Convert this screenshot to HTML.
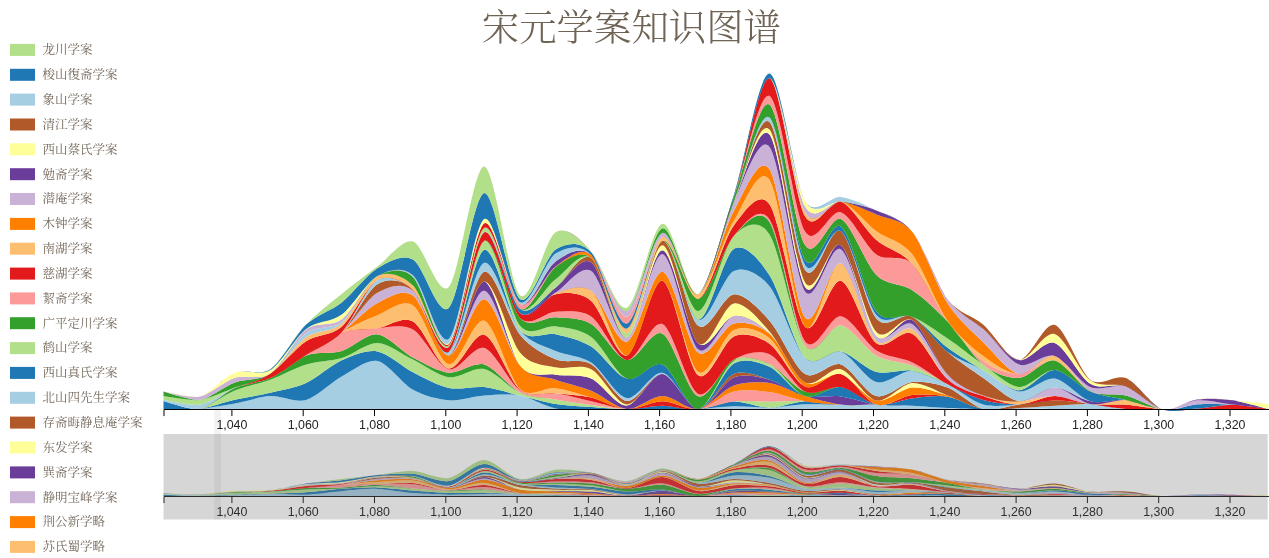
<!DOCTYPE html>
<html lang="zh"><head><meta charset="utf-8"><title>宋元学案知识图谱</title>
<style>
html,body{margin:0;padding:0;background:#fff;}
body{width:1269px;height:558px;overflow:hidden;position:relative;font-family:"Liberation Sans","Noto Sans CJK SC",sans-serif;}
svg{position:absolute;left:0;top:0;display:block;}
.title{font-family:"Liberation Serif","Noto Serif CJK SC",serif;font-size:37.4px;font-weight:300;fill:#6f6355;}
.leg text{font-family:"Liberation Serif","Noto Serif CJK SC",serif;font-size:12.5px;fill:#73675a;}
.axis text{font-family:"Liberation Sans",sans-serif;font-size:12.4px;fill:#222;text-anchor:middle;}
.axis path,.axis line{fill:none;stroke:#000;stroke-width:1;}
.ax2 path,.ax2 line{stroke:#333;}
.ax2 text{fill:#3a3a3a;}
</style></head><body>
<svg width="1269" height="558" viewBox="0 0 1269 558">
<text class="title" x="631.4" y="40.8" text-anchor="middle">宋元学案知识图谱</text>
<g class="leg">
<rect x="10" y="43.9" width="25" height="12" fill="#b2df8a"/><text x="42.5" y="54.2">龙川学案</text>
<rect x="10" y="68.8" width="25" height="12" fill="#1f78b4"/><text x="42.5" y="79">梭山復斋学案</text>
<rect x="10" y="93.6" width="25" height="12" fill="#a6cee3"/><text x="42.5" y="103.9">象山学案</text>
<rect x="10" y="118.5" width="25" height="12" fill="#b15928"/><text x="42.5" y="128.8">清江学案</text>
<rect x="10" y="143.3" width="25" height="12" fill="#ffff99"/><text x="42.5" y="153.6">西山蔡氏学案</text>
<rect x="10" y="168.2" width="25" height="12" fill="#6a3d9a"/><text x="42.5" y="178.5">勉斋学案</text>
<rect x="10" y="193" width="25" height="12" fill="#cab2d6"/><text x="42.5" y="203.3">潜庵学案</text>
<rect x="10" y="217.9" width="25" height="12" fill="#ff7f00"/><text x="42.5" y="228.2">木钟学案</text>
<rect x="10" y="242.7" width="25" height="12" fill="#fdbf6f"/><text x="42.5" y="253">南湖学案</text>
<rect x="10" y="267.6" width="25" height="12" fill="#e31a1c"/><text x="42.5" y="277.9">慈湖学案</text>
<rect x="10" y="292.4" width="25" height="12" fill="#fb9a99"/><text x="42.5" y="302.7">絜斋学案</text>
<rect x="10" y="317.2" width="25" height="12" fill="#33a02c"/><text x="42.5" y="327.6">广平定川学案</text>
<rect x="10" y="342.1" width="25" height="12" fill="#b2df8a"/><text x="42.5" y="352.4">鹤山学案</text>
<rect x="10" y="366.9" width="25" height="12" fill="#1f78b4"/><text x="42.5" y="377.2">西山真氏学案</text>
<rect x="10" y="391.8" width="25" height="12" fill="#a6cee3"/><text x="42.5" y="402.1">北山四先生学案</text>
<rect x="10" y="416.6" width="25" height="12" fill="#b15928"/><text x="42.5" y="426.9">存斋晦静息庵学案</text>
<rect x="10" y="441.5" width="25" height="12" fill="#ffff99"/><text x="42.5" y="451.8">东发学案</text>
<rect x="10" y="466.4" width="25" height="12" fill="#6a3d9a"/><text x="42.5" y="476.7">巽斋学案</text>
<rect x="10" y="491.2" width="25" height="12" fill="#cab2d6"/><text x="42.5" y="501.5">静明宝峰学案</text>
<rect x="10" y="516.1" width="25" height="12" fill="#ff7f00"/><text x="42.5" y="526.4">荆公新学略</text>
<rect x="10" y="540.9" width="25" height="12" fill="#fdbf6f"/><text x="42.5" y="551.2">苏氏蜀学略</text>
</g>
<g class="stream">
<path fill="#a6cee3" d="M163.5,409C182.5,409.4 194.4,409.4 199.1,409C209.8,408.2 224.1,405.5 234.8,403.6C245.5,401.7 259.7,396.6 270.4,396.1C281.1,395.6 295.4,402.9 306.1,400C316.8,397.1 331,382.5 341.7,376.6C352.4,370.8 366.7,359 377.4,361C388.1,363 402.3,383.9 413,389.8C423.7,395.7 438,399.4 448.7,400.3C459.4,401.2 473.6,396.2 484.3,395.5C495,394.8 509.3,393.7 520,395.6C530.6,397.6 544.9,406.5 555.6,408.5C566.3,410.5 580.5,408.9 591.2,409C601.9,409.1 616.2,409 626.9,409L626.9,409C616.2,409 601.9,409 591.2,409C580.5,409 566.3,409 555.6,409C544.9,409 530.6,409 520,409C509.3,409 495,409 484.3,409C473.6,409 459.4,409 448.7,409C438,409 423.7,409 413,409C402.3,409 388.1,409 377.4,409C366.7,409 352.4,409 341.7,409C331,409 316.8,409 306.1,409C295.4,409 281.1,409 270.4,409C259.7,409 245.5,409 234.8,409C224.1,409 209.8,409 199.1,409C194.4,409 182.5,409 163.5,409ZM662.5,409C673.2,409 687.5,409.4 698.2,409C708.9,408.6 723.1,406.5 733.8,406.3C744.5,406.1 758.8,407.9 769.5,407.6C780.2,407.3 794.4,404.8 805.1,404.3C815.8,403.9 830.1,404.6 840.8,404.6C851.4,404.6 865.7,404.4 876.4,404.6C887.1,404.8 901.4,405.2 912,405.7C922.7,406.2 937,407.5 947.7,408C958.4,408.5 972.6,409 983.3,409C994,409 1008.3,408 1019,408C1029.7,408 1043.9,408.9 1054.6,409C1065.3,409.1 1079.6,409 1090.3,409L1090.3,409C1079.6,409 1065.3,409 1054.6,409C1043.9,409 1029.7,409 1019,409C1008.3,409 994,409 983.3,409C972.6,409 958.4,409 947.7,409C937,409 922.7,409 912,409C901.4,409 887.1,409 876.4,409C865.7,409 851.4,409 840.8,409C830.1,409 815.8,409 805.1,409C794.4,409 780.2,409 769.5,409C758.8,409 744.5,409 733.8,409C723.1,409 708.9,409 698.2,409C687.5,409 673.2,409 662.5,409Z"/>
<path fill="#1f78b4" d="M163.5,409C182.5,409.6 194.4,409.6 199.1,409C209.8,407.6 224.1,402.2 234.8,399.8C245.5,397.4 259.7,395.2 270.4,392.7C281.1,390.2 295.4,388 306.1,383.1C316.8,378.2 331,365.1 341.7,360.3C352.4,355.5 366.7,349.6 377.4,351.4C388.1,353.2 402.3,366.7 413,372.2C423.7,377.7 438,385.7 448.7,387.9C459.4,390.1 473.6,385.9 484.3,387.1C495,388.3 509.3,393.1 520,395.6C530.6,398.1 544.9,402.3 555.6,404C566.3,405.7 580.5,406.2 591.2,407C601.9,407.8 616.2,409.2 626.9,409C637.6,408.8 651.8,405.8 662.5,405.8C673.2,405.8 687.5,409.6 698.2,409C708.9,408.4 723.1,401.7 733.8,401.5C744.5,401.3 758.8,407.6 769.5,407.6C780.2,407.6 794.4,401.6 805.1,401.2C815.8,400.8 830.1,404.1 840.8,404.6C851.4,405.1 865.7,404.4 876.4,404.6L876.4,404.6C865.7,404.4 851.4,404.6 840.8,404.6C830.1,404.6 815.8,403.9 805.1,404.3C794.4,404.8 780.2,407.3 769.5,407.6C758.8,407.9 744.5,406.1 733.8,406.3C723.1,406.5 708.9,408.6 698.2,409C687.5,409.4 673.2,409 662.5,409C651.8,409 637.6,409 626.9,409C616.2,409 601.9,409.1 591.2,409C580.5,408.9 566.3,410.5 555.6,408.5C544.9,406.5 530.6,397.6 520,395.6C509.3,393.7 495,394.8 484.3,395.5C473.6,396.2 459.4,401.2 448.7,400.3C438,399.4 423.7,395.7 413,389.8C402.3,383.9 388.1,363 377.4,361C366.7,359 352.4,370.8 341.7,376.6C331,382.5 316.8,397.1 306.1,400C295.4,402.9 281.1,395.6 270.4,396.1C259.7,396.6 245.5,401.7 234.8,403.6C224.1,405.5 209.8,408.2 199.1,409C194.4,409.4 182.5,409.4 163.5,409Z"/>
<path fill="#b2df8a" d="M163.5,409C182.5,410.2 194.4,410.2 199.1,409C209.8,406.2 224.1,394.9 234.8,390.5C245.5,386.1 259.7,383.6 270.4,379.7C281.1,375.8 295.4,367.8 306.1,364.5C316.8,361.2 331,361.2 341.7,358C352.4,354.8 366.7,342.7 377.4,342.9C388.1,343.1 402.3,354.4 413,359.5C423.7,364.6 438,375.8 448.7,377.2C459.4,378.6 473.6,366.7 484.3,369C495,371.3 509.3,388 520,392.6C530.6,397.2 544.9,397.6 555.6,399.5C566.3,401.4 580.5,403.6 591.2,405C601.9,406.4 616.2,408.9 626.9,409C637.6,409.1 651.8,405.8 662.5,405.8L662.5,405.8C651.8,405.8 637.6,408.8 626.9,409C616.2,409.2 601.9,407.8 591.2,407C580.5,406.2 566.3,405.7 555.6,404C544.9,402.3 530.6,398.1 520,395.6C509.3,393.1 495,388.3 484.3,387.1C473.6,385.9 459.4,390.1 448.7,387.9C438,385.7 423.7,377.7 413,372.2C402.3,366.7 388.1,353.2 377.4,351.4C366.7,349.6 352.4,355.5 341.7,360.3C331,365.1 316.8,378.2 306.1,383.1C295.4,388 281.1,390.2 270.4,392.7C259.7,395.2 245.5,397.4 234.8,399.8C224.1,402.2 209.8,407.6 199.1,409C194.4,409.6 182.5,409.6 163.5,409ZM698.2,409C708.9,408.4 723.1,402.6 733.8,401.5C744.5,400.4 758.8,401.7 769.5,401.7C780.2,401.7 794.4,400.8 805.1,401.2C815.8,401.6 830.1,404.1 840.8,404.6L840.8,404.6C830.1,404.1 815.8,400.8 805.1,401.2C794.4,401.6 780.2,407.6 769.5,407.6C758.8,407.6 744.5,401.3 733.8,401.5C723.1,401.7 708.9,408.4 698.2,409Z"/>
<path fill="#33a02c" d="M163.5,409C182.5,410.4 194.4,410.4 199.1,409C209.8,405.9 224.1,392.6 234.8,388C245.5,383.4 259.7,382.9 270.4,378C281.1,373.1 295.4,359.6 306.1,355.5C316.8,351.4 331,354.2 341.7,351C352.4,347.8 366.7,333.4 377.4,334.4C388.1,335.4 402.3,351.9 413,357.6C423.7,363.3 438,371.7 448.7,372.7C459.4,373.7 473.6,361.5 484.3,364.5C495,367.5 509.3,387.4 520,392.6C530.6,397.9 544.9,397.6 555.6,399.5L555.6,399.5C544.9,397.6 530.6,397.2 520,392.6C509.3,388 495,371.3 484.3,369C473.6,366.7 459.4,378.6 448.7,377.2C438,375.8 423.7,364.6 413,359.5C402.3,354.4 388.1,343.1 377.4,342.9C366.7,342.7 352.4,354.8 341.7,358C331,361.2 316.8,361.2 306.1,364.5C295.4,367.8 281.1,375.8 270.4,379.7C259.7,383.6 245.5,386.1 234.8,390.5C224.1,394.9 209.8,406.2 199.1,409C194.4,410.2 182.5,410.2 163.5,409Z"/>
<path fill="#fb9a99" d="M234.8,388C245.5,383.4 259.7,382.9 270.4,378C281.1,373.1 295.4,361.9 306.1,355C316.8,348.1 331,336.3 341.7,332.3C352.4,328.3 366.7,328.6 377.4,328.2C388.1,327.8 402.3,323.4 413,329.6C423.7,335.8 438,366.5 448.7,369.3C459.4,372.1 473.6,345 484.3,348.1C495,351.2 509.3,383.4 520,390.2C530.6,397 544.9,391.7 555.6,393.3C566.3,394.9 580.5,398.8 591.2,401.2C601.9,403.6 616.2,408.3 626.9,409C637.6,409.7 651.8,405.8 662.5,405.8C673.2,405.8 687.5,411.1 698.2,409C708.9,406.9 723.1,394 733.8,391.5C744.5,389 758.8,390.6 769.5,392.1C780.2,393.6 794.4,399.3 805.1,401.2C815.8,403.1 830.1,404.1 840.8,404.6L840.8,404.6C830.1,404.1 815.8,401.6 805.1,401.2C794.4,400.8 780.2,401.7 769.5,401.7C758.8,401.7 744.5,400.4 733.8,401.5C723.1,402.6 708.9,408.4 698.2,409C687.5,409.6 673.2,405.8 662.5,405.8C651.8,405.8 637.6,409.1 626.9,409C616.2,408.9 601.9,406.4 591.2,405C580.5,403.6 566.3,401.4 555.6,399.5C544.9,397.6 530.6,397.9 520,392.6C509.3,387.4 495,367.5 484.3,364.5C473.6,361.5 459.4,373.7 448.7,372.7C438,371.7 423.7,363.3 413,357.6C402.3,351.9 388.1,335.4 377.4,334.4C366.7,333.4 352.4,347.8 341.7,351C331,354.2 316.8,351.4 306.1,355.5C295.4,359.6 281.1,373.1 270.4,378C259.7,382.9 245.5,383.4 234.8,388Z"/>
<path fill="#e31a1c" d="M341.7,332.3C352.4,328.3 366.7,329.8 377.4,328.2C388.1,326.6 402.3,315.4 413,321.4C423.7,327.4 438,366.5 448.7,368.5C459.4,370.5 473.6,331.7 484.3,334.8C495,337.9 509.3,380.7 520,389.5C530.6,398.3 544.9,392.1 555.6,393.3C566.3,394.5 580.5,395.1 591.2,397.5C601.9,399.9 616.2,408.4 626.9,409C637.6,409.6 651.8,401.2 662.5,401.2C673.2,401.2 687.5,410.5 698.2,409C708.9,407.5 723.1,394 733.8,391.5L733.8,391.5C723.1,394 708.9,406.9 698.2,409C687.5,411.1 673.2,405.8 662.5,405.8C651.8,405.8 637.6,409.7 626.9,409C616.2,408.3 601.9,403.6 591.2,401.2C580.5,398.8 566.3,394.9 555.6,393.3C544.9,391.7 530.6,397 520,390.2C509.3,383.4 495,351.2 484.3,348.1C473.6,345 459.4,372.1 448.7,369.3C438,366.5 423.7,335.8 413,329.6C402.3,323.4 388.1,327.8 377.4,328.2C366.7,328.6 352.4,328.3 341.7,332.3Z"/>
<path fill="#fdbf6f" d="M306.1,355C316.8,348.1 331,338.3 341.7,332.3C352.4,326.3 366.7,319.2 377.4,315.2C388.1,311.2 402.3,298.2 413,305.6C423.7,313 438,361.9 448.7,364.2C459.4,366.5 473.6,317 484.3,320.7C495,324.4 509.3,378.9 520,389C530.6,399.1 544.9,386.9 555.6,388.2C566.3,389.5 580.5,394.4 591.2,397.5C601.9,400.6 616.2,408.4 626.9,409L626.9,409C616.2,408.4 601.9,399.9 591.2,397.5C580.5,395.1 566.3,394.5 555.6,393.3C544.9,392.1 530.6,398.3 520,389.5C509.3,380.7 495,337.9 484.3,334.8C473.6,331.7 459.4,370.5 448.7,368.5C438,366.5 423.7,327.4 413,321.4C402.3,315.4 388.1,326.6 377.4,328.2C366.7,329.8 352.4,328.3 341.7,332.3C331,336.3 316.8,348.1 306.1,355Z"/>
<path fill="#ff7f00" d="M306.1,355C316.8,348.1 331,340.1 341.7,332.3C352.4,324.5 366.7,308.5 377.4,303C388.1,297.5 402.3,287.7 413,295.6C423.7,303.5 438,354.9 448.7,355.4C459.4,355.9 473.6,297.7 484.3,299.2C495,300.7 509.3,353.5 520,365.6C530.6,377.7 544.9,375.9 555.6,379.7C566.3,383.5 580.5,386.4 591.2,390.8C601.9,395.2 616.2,408.2 626.9,409C637.6,409.8 651.8,396.1 662.5,396.1C673.2,396.1 687.5,410.6 698.2,409C708.9,407.4 723.1,389.4 733.8,385.5C744.5,381.6 758.8,381.5 769.5,383.1C780.2,384.7 794.4,392.9 805.1,396.1C815.8,399.3 830.1,403.3 840.8,404.6C851.4,405.9 865.7,404.4 876.4,404.6L876.4,404.6C865.7,404.4 851.4,405.1 840.8,404.6C830.1,404.1 815.8,403.1 805.1,401.2C794.4,399.3 780.2,393.6 769.5,392.1C758.8,390.6 744.5,389 733.8,391.5C723.1,394 708.9,407.5 698.2,409C687.5,410.5 673.2,401.2 662.5,401.2C651.8,401.2 637.6,409.6 626.9,409C616.2,408.4 601.9,400.6 591.2,397.5C580.5,394.4 566.3,389.5 555.6,388.2C544.9,386.9 530.6,399.1 520,389C509.3,378.9 495,324.4 484.3,320.7C473.6,317 459.4,366.5 448.7,364.2C438,361.9 423.7,313 413,305.6C402.3,298.2 388.1,311.2 377.4,315.2C366.7,319.2 352.4,326.3 341.7,332.3C331,338.3 316.8,348.1 306.1,355Z"/>
<path fill="#cab2d6" d="M306.1,355C316.8,348.1 331,341.6 341.7,332.3C352.4,323 366.7,299 377.4,292.8C388.1,286.6 402.3,281.4 413,290.8C423.7,300.2 438,355.4 448.7,355.4C459.4,355.4 473.6,289.3 484.3,290.8C495,292.3 509.3,352.3 520,365.6C530.6,378.9 544.9,375.9 555.6,379.7L555.6,379.7C544.9,375.9 530.6,377.7 520,365.6C509.3,353.5 495,300.7 484.3,299.2C473.6,297.7 459.4,355.9 448.7,355.4C438,354.9 423.7,303.5 413,295.6C402.3,287.7 388.1,297.5 377.4,303C366.7,308.5 352.4,324.5 341.7,332.3C331,340.1 316.8,348.1 306.1,355Z"/>
<path fill="#6a3d9a" d="M413,290.8C423.7,300.2 438,356.8 448.7,355.4C459.4,354 473.6,279.9 484.3,281.4C495,282.9 509.3,351.6 520,365.6C530.6,379.6 544.9,372.8 555.6,374.7C566.3,376.6 580.5,373.8 591.2,378.4C601.9,383 616.2,406.1 626.9,405.5C637.6,404.9 651.8,373.6 662.5,374.1C673.2,374.6 687.5,408.5 698.2,409C708.9,409.5 723.1,381.9 733.8,377.5C744.5,373.1 758.8,376.9 769.5,379.7C780.2,382.5 794.4,393.6 805.1,396.1C815.8,398.6 830.1,395.1 840.8,396.4C851.4,397.7 865.7,403.2 876.4,404.6C887.1,406 901.4,405.2 912,405.7L912,405.7C901.4,405.2 887.1,404.8 876.4,404.6C865.7,404.4 851.4,405.9 840.8,404.6C830.1,403.3 815.8,399.3 805.1,396.1C794.4,392.9 780.2,384.7 769.5,383.1C758.8,381.5 744.5,381.6 733.8,385.5C723.1,389.4 708.9,407.4 698.2,409C687.5,410.6 673.2,396.1 662.5,396.1C651.8,396.1 637.6,409.8 626.9,409C616.2,408.2 601.9,395.2 591.2,390.8C580.5,386.4 566.3,383.5 555.6,379.7C544.9,375.9 530.6,378.9 520,365.6C509.3,352.3 495,292.3 484.3,290.8C473.6,289.3 459.4,355.4 448.7,355.4C438,355.4 423.7,300.2 413,290.8Z"/>
<path fill="#ffff99" d="M448.7,355.4C459.4,354 473.6,281.8 484.3,281.4C495,280.9 509.3,339.5 520,352.4C530.6,365.3 544.9,364.8 555.6,367.3C566.3,369.8 580.5,363.7 591.2,369.3C601.9,374.9 616.2,403.8 626.9,404.5C637.6,405.2 651.8,373.4 662.5,374.1C673.2,374.8 687.5,408.5 698.2,409L698.2,409C687.5,408.5 673.2,374.6 662.5,374.1C651.8,373.6 637.6,404.9 626.9,405.5C616.2,406.1 601.9,383 591.2,378.4C580.5,373.8 566.3,376.6 555.6,374.7C544.9,372.8 530.6,379.6 520,365.6C509.3,351.6 495,282.9 484.3,281.4C473.6,279.9 459.4,354 448.7,355.4Z"/>
<path fill="#b15928" d="M306.1,355C316.8,348.1 331,342.9 341.7,332.3C352.4,321.7 366.7,290.6 377.4,284.2C388.1,277.8 402.3,279.1 413,289.8C423.7,300.5 438,358.1 448.7,355.4C459.4,352.7 473.6,274.9 484.3,271.8C495,268.7 509.3,321.7 520,334.8C530.6,347.9 544.9,354.9 555.6,359.3C566.3,363.7 580.5,357.9 591.2,364.2C601.9,370.5 616.2,399.5 626.9,401C637.6,402.5 651.8,372.9 662.5,374.1C673.2,375.3 687.5,409 698.2,409C708.9,409 723.1,378.4 733.8,374C744.5,369.6 758.8,376.4 769.5,379.7C780.2,383 794.4,393.6 805.1,396.1L805.1,396.1C794.4,393.6 780.2,382.5 769.5,379.7C758.8,376.9 744.5,373.1 733.8,377.5C723.1,381.9 708.9,409.5 698.2,409C687.5,408.5 673.2,374.8 662.5,374.1C651.8,373.4 637.6,405.2 626.9,404.5C616.2,403.8 601.9,374.9 591.2,369.3C580.5,363.7 566.3,369.8 555.6,367.3C544.9,364.8 530.6,365.3 520,352.4C509.3,339.5 495,280.9 484.3,281.4C473.6,281.8 459.4,354 448.7,355.4C438,356.8 423.7,300.2 413,290.8C402.3,281.4 388.1,286.6 377.4,292.8C366.7,299 352.4,323 341.7,332.3C331,341.6 316.8,348.1 306.1,355Z"/>
<path fill="#a6cee3" d="M306.1,355C316.8,348.1 331,343.6 341.7,332.3C352.4,321.1 366.7,286.4 377.4,280C388.1,273.6 402.3,279 413,289.8C423.7,300.6 438,355.9 448.7,351.9C459.4,347.8 473.6,266 484.3,262.8C495,259.6 509.3,317.1 520,330.3C530.6,343.5 544.9,346.2 555.6,351C566.3,355.8 580.5,355.4 591.2,362.5C601.9,369.6 616.2,396.5 626.9,398C637.6,399.5 651.8,371.1 662.5,372.7C673.2,374.3 687.5,408.8 698.2,409C708.9,409.2 723.1,378.4 733.8,374L733.8,374C723.1,378.4 708.9,409 698.2,409C687.5,409 673.2,375.3 662.5,374.1C651.8,372.9 637.6,402.5 626.9,401C616.2,399.5 601.9,370.5 591.2,364.2C580.5,357.9 566.3,363.7 555.6,359.3C544.9,354.9 530.6,347.9 520,334.8C509.3,321.7 495,268.7 484.3,271.8C473.6,274.9 459.4,352.7 448.7,355.4C438,358.1 423.7,300.5 413,289.8C402.3,279.1 388.1,277.8 377.4,284.2C366.7,290.6 352.4,321.7 341.7,332.3C331,342.9 316.8,348.1 306.1,355ZM983.3,409C994,409 1008.3,408.5 1019,408C1029.7,407.5 1043.9,406.3 1054.6,405.7C1065.3,405.1 1079.6,403.5 1090.3,404C1101,404.5 1115.2,408.2 1125.9,409C1136.6,409.8 1150.9,409 1161.6,409L1161.6,409C1150.9,409 1136.6,409 1125.9,409C1115.2,409 1101,409 1090.3,409C1079.6,409 1065.3,409.1 1054.6,409C1043.9,408.9 1029.7,408 1019,408C1008.3,408 994,409 983.3,409Z"/>
<path fill="#1f78b4" d="M163.5,400.9C182.5,407.2 194.4,409.9 199.1,409C209.8,407.1 224.1,392.6 234.8,388L234.8,388C224.1,392.6 209.8,405.9 199.1,409C194.4,410.4 182.5,410.4 163.5,409ZM413,289.8C423.7,300.6 438,357.9 448.7,351.9C459.4,345.9 473.6,253.1 484.3,249.8C495,246.5 509.3,317.4 520,330.1C530.6,342.8 544.9,331.7 555.6,334.2C566.3,336.7 580.5,339.8 591.2,346.5C601.9,353.2 616.2,375.9 626.9,378.6C637.6,381.3 651.8,359.9 662.5,364.5C673.2,369.1 687.5,409.1 698.2,409C708.9,408.9 723.1,369.8 733.8,363.5C744.5,357.2 758.8,361.9 769.5,366.8C780.2,371.7 794.4,393.1 805.1,396.1C815.8,399.1 830.1,385.8 840.8,387.1C851.4,388.4 865.7,402.9 876.4,404.6C887.1,406.3 901.4,399.6 912,398.4C922.7,397.2 937,395.1 947.7,396.7C958.4,398.3 972.6,407.3 983.3,409C994,410.7 1008.3,408.5 1019,408L1019,408C1008.3,408.5 994,409 983.3,409C972.6,409 958.4,408.5 947.7,408C937,407.5 922.7,406.2 912,405.7C901.4,405.2 887.1,406 876.4,404.6C865.7,403.2 851.4,397.7 840.8,396.4C830.1,395.1 815.8,398.6 805.1,396.1C794.4,393.6 780.2,383 769.5,379.7C758.8,376.4 744.5,369.6 733.8,374C723.1,378.4 708.9,409.2 698.2,409C687.5,408.8 673.2,374.3 662.5,372.7C651.8,371.1 637.6,399.5 626.9,398C616.2,396.5 601.9,369.6 591.2,362.5C580.5,355.4 566.3,355.8 555.6,351C544.9,346.2 530.6,343.5 520,330.3C509.3,317.1 495,259.6 484.3,262.8C473.6,266 459.4,347.8 448.7,351.9C438,355.9 423.7,300.6 413,289.8Z"/>
<path fill="#b2df8a" d="M413,289.8C423.7,300.6 438,359.2 448.7,351.9C459.4,344.5 473.6,244.7 484.3,240.8C495,236.9 509.3,313 520,325.8C530.6,338.6 544.9,324.6 555.6,326.3C566.3,328 580.5,329.2 591.2,337C601.9,344.8 616.2,374.5 626.9,378.6C637.6,382.7 651.8,359.9 662.5,364.5C673.2,369.1 687.5,409.6 698.2,409C708.9,408.4 723.1,367.5 733.8,360.7C744.5,353.9 758.8,358.6 769.5,363.9C780.2,369.2 794.4,392.6 805.1,396.1C815.8,399.6 830.1,385.8 840.8,387.1L840.8,387.1C830.1,385.8 815.8,399.1 805.1,396.1C794.4,393.1 780.2,371.7 769.5,366.8C758.8,361.9 744.5,357.2 733.8,363.5C723.1,369.8 708.9,408.9 698.2,409C687.5,409.1 673.2,369.1 662.5,364.5C651.8,359.9 637.6,381.3 626.9,378.6C616.2,375.9 601.9,353.2 591.2,346.5C580.5,339.8 566.3,336.7 555.6,334.2C544.9,331.7 530.6,342.8 520,330.1C509.3,317.4 495,246.5 484.3,249.8C473.6,253.1 459.4,345.9 448.7,351.9C438,357.9 423.7,300.6 413,289.8Z"/>
<path fill="#33a02c" d="M448.7,351.9C459.4,344.5 473.6,245.9 484.3,240.8C495,235.7 509.3,306.5 520,318C530.6,329.5 544.9,316.4 555.6,317.3C566.3,318.2 580.5,317.6 591.2,324C601.9,330.4 616.2,358.5 626.9,360C637.6,361.5 651.8,328.3 662.5,333.7C673.2,339.1 687.5,392.4 698.2,396.3C708.9,400.2 723.1,364.4 733.8,359.5C744.5,354.6 758.8,359.1 769.5,363.9C780.2,368.7 794.4,388.1 805.1,391.6C815.8,395.1 830.1,385.2 840.8,387.1C851.4,389.1 865.7,402.9 876.4,404.6L876.4,404.6C865.7,402.9 851.4,388.4 840.8,387.1C830.1,385.8 815.8,399.6 805.1,396.1C794.4,392.6 780.2,369.2 769.5,363.9C758.8,358.6 744.5,353.9 733.8,360.7C723.1,367.5 708.9,408.4 698.2,409C687.5,409.6 673.2,369.1 662.5,364.5C651.8,359.9 637.6,382.7 626.9,378.6C616.2,374.5 601.9,344.8 591.2,337C580.5,329.2 566.3,328 555.6,326.3C544.9,324.6 530.6,338.6 520,325.8C509.3,313 495,236.9 484.3,240.8C473.6,244.7 459.4,344.5 448.7,351.9Z"/>
<path fill="#fb9a99" d="M484.3,240.8C495,235.7 509.3,307.4 520,318C530.6,328.6 544.9,311.9 555.6,311.7C566.3,311.5 580.5,309.3 591.2,316.5C601.9,323.7 616.2,358.9 626.9,360C637.6,361.1 651.8,319 662.5,324.1C673.2,329.2 687.5,388.7 698.2,394C708.9,399.3 723.1,365.5 733.8,359.5C744.5,353.5 758.8,349.5 769.5,354.3C780.2,359.1 794.4,386.7 805.1,391.6C815.8,396.5 830.1,385.2 840.8,387.1L840.8,387.1C830.1,385.2 815.8,395.1 805.1,391.6C794.4,388.1 780.2,368.7 769.5,363.9C758.8,359.1 744.5,354.6 733.8,359.5C723.1,364.4 708.9,400.2 698.2,396.3C687.5,392.4 673.2,339.1 662.5,333.7C651.8,328.3 637.6,361.5 626.9,360C616.2,358.5 601.9,330.4 591.2,324C580.5,317.6 566.3,318.2 555.6,317.3C544.9,316.4 530.6,329.5 520,318C509.3,306.5 495,235.7 484.3,240.8Z"/>
<path fill="#e31a1c" d="M199.1,409C209.8,407.1 224.1,393.3 234.8,388C245.5,382.7 259.7,380.5 270.4,373.5C281.1,366.5 295.4,348.3 306.1,341.3C316.8,334.3 331,336 341.7,326.8C352.4,317.6 366.7,285.6 377.4,280C388.1,274.4 402.3,279.8 413,289.8C423.7,299.8 438,355.5 448.7,346.9C459.4,338.3 473.6,237.4 484.3,232.3C495,227.2 509.3,303.7 520,313C530.6,322.3 544.9,296 555.6,294.2C566.3,292.4 580.5,291.8 591.2,301C601.9,310.2 616.2,358.5 626.9,355.5C637.6,352.5 651.8,277.8 662.5,280.8C673.2,283.8 687.5,366.8 698.2,375.2C708.9,383.6 723.1,341.2 733.8,336.5C744.5,331.8 758.8,336.3 769.5,343.8C780.2,351.3 794.4,382 805.1,386.5C815.8,391 830.1,371.4 840.8,374.1C851.4,376.8 865.7,401.5 876.4,404.6C887.1,407.7 901.4,396.2 912,395C922.7,393.8 937,394.6 947.7,396.7C958.4,398.8 972.6,407.3 983.3,409L983.3,409C972.6,407.3 958.4,398.3 947.7,396.7C937,395.1 922.7,397.2 912,398.4C901.4,399.6 887.1,406.3 876.4,404.6C865.7,402.9 851.4,389.1 840.8,387.1C830.1,385.2 815.8,396.5 805.1,391.6C794.4,386.7 780.2,359.1 769.5,354.3C758.8,349.5 744.5,353.5 733.8,359.5C723.1,365.5 708.9,399.3 698.2,394C687.5,388.7 673.2,329.2 662.5,324.1C651.8,319 637.6,361.1 626.9,360C616.2,358.9 601.9,323.7 591.2,316.5C580.5,309.3 566.3,311.5 555.6,311.7C544.9,311.9 530.6,328.6 520,318C509.3,307.4 495,235.7 484.3,240.8C473.6,245.9 459.4,344.5 448.7,351.9C438,359.2 423.7,300.6 413,289.8C402.3,279 388.1,273.6 377.4,280C366.7,286.4 352.4,321.1 341.7,332.3C331,343.6 316.8,348.1 306.1,355C295.4,361.9 281.1,373.1 270.4,378C259.7,382.9 245.5,383.4 234.8,388C224.1,392.6 209.8,407.1 199.1,409Z"/>
<path fill="#fdbf6f" d="M234.8,388C245.5,382.7 259.7,381.1 270.4,373.5C281.1,365.9 295.4,344.7 306.1,337.2C316.8,329.7 331,332.7 341.7,323.5C352.4,314.3 366.7,281.7 377.4,276C388.1,270.3 402.3,274.9 413,285.5C423.7,296.1 438,354.9 448.7,346.9C459.4,338.9 473.6,237.4 484.3,232.3C495,227.2 509.3,303.9 520,313C530.6,322.1 544.9,296.6 555.6,293.3C566.3,290 580.5,281.5 591.2,290.8C601.9,300.1 616.2,357 626.9,355.5C637.6,354 651.8,278.4 662.5,280.8C673.2,283.2 687.5,364.4 698.2,371.8C708.9,379.2 723.1,335 733.8,330C744.5,325 758.8,329.7 769.5,338.2C780.2,346.7 794.4,381.1 805.1,386.5C815.8,391.9 830.1,371.4 840.8,374.1L840.8,374.1C830.1,371.4 815.8,391 805.1,386.5C794.4,382 780.2,351.3 769.5,343.8C758.8,336.3 744.5,331.8 733.8,336.5C723.1,341.2 708.9,383.6 698.2,375.2C687.5,366.8 673.2,283.8 662.5,280.8C651.8,277.8 637.6,352.5 626.9,355.5C616.2,358.5 601.9,310.2 591.2,301C580.5,291.8 566.3,292.4 555.6,294.2C544.9,296 530.6,322.3 520,313C509.3,303.7 495,227.2 484.3,232.3C473.6,237.4 459.4,338.3 448.7,346.9C438,355.5 423.7,299.8 413,289.8C402.3,279.8 388.1,274.4 377.4,280C366.7,285.6 352.4,317.6 341.7,326.8C331,336 316.8,334.3 306.1,341.3C295.4,348.3 281.1,366.5 270.4,373.5C259.7,380.5 245.5,382.7 234.8,388Z"/>
<path fill="#ff7f00" d="M555.6,293.3C566.3,290 580.5,283.6 591.2,290.8C601.9,298 616.2,344.5 626.9,341.6C637.6,338.8 651.8,270.2 662.5,271.8C673.2,273.4 687.5,344.8 698.2,352.6C708.9,360.4 723.1,326.3 733.8,323.5C744.5,320.7 758.8,324.8 769.5,333.7C780.2,342.6 794.4,376.5 805.1,382.6C815.8,388.7 830.1,371.4 840.8,374.1C851.4,376.8 865.7,398.6 876.4,400.6C887.1,402.6 901.4,388.4 912,387.6C922.7,386.8 937,392.3 947.7,395.5C958.4,398.7 972.6,407.1 983.3,409C994,410.9 1008.3,408.5 1019,408L1019,408C1008.3,408.5 994,410.7 983.3,409C972.6,407.3 958.4,398.8 947.7,396.7C937,394.6 922.7,393.8 912,395C901.4,396.2 887.1,407.7 876.4,404.6C865.7,401.5 851.4,376.8 840.8,374.1C830.1,371.4 815.8,391.9 805.1,386.5C794.4,381.1 780.2,346.7 769.5,338.2C758.8,329.7 744.5,325 733.8,330C723.1,335 708.9,379.2 698.2,371.8C687.5,364.4 673.2,283.2 662.5,280.8C651.8,278.4 637.6,354 626.9,355.5C616.2,357 601.9,300.1 591.2,290.8C580.5,281.5 566.3,290 555.6,293.3Z"/>
<path fill="#cab2d6" d="M484.3,232.3C495,227.2 509.3,304 520,313C530.6,322 544.9,298.8 555.6,292.5C566.3,286.2 580.5,264.2 591.2,271C601.9,277.8 616.2,340.1 626.9,337.6C637.6,335.1 651.8,252.5 662.5,254.3C673.2,256.1 687.5,340 698.2,349.3C708.9,358.6 723.1,318.4 733.8,316C744.5,313.6 758.8,323 769.5,333C780.2,343 794.4,376.4 805.1,382.6C815.8,388.8 830.1,371.4 840.8,374.1L840.8,374.1C830.1,371.4 815.8,388.7 805.1,382.6C794.4,376.5 780.2,342.6 769.5,333.7C758.8,324.8 744.5,320.7 733.8,323.5C723.1,326.3 708.9,360.4 698.2,352.6C687.5,344.8 673.2,273.4 662.5,271.8C651.8,270.2 637.6,338.8 626.9,341.6C616.2,344.5 601.9,298 591.2,290.8C580.5,283.6 566.3,290 555.6,293.3C544.9,296.6 530.6,322.1 520,313C509.3,303.9 495,227.2 484.3,232.3Z"/>
<path fill="#6a3d9a" d="M484.3,232.3C495,227.2 509.3,304.7 520,313C530.6,321.3 544.9,295.3 555.6,287.7C566.3,280.1 580.5,255 591.2,262.5C601.9,270 616.2,339.4 626.9,337.6C637.6,335.8 651.8,249.4 662.5,250.3C673.2,251.2 687.5,333.4 698.2,343.3C708.9,353.2 723.1,317.5 733.8,316C744.5,314.5 758.8,323 769.5,333L769.5,333C758.8,323 744.5,313.6 733.8,316C723.1,318.4 708.9,358.6 698.2,349.3C687.5,340 673.2,256.1 662.5,254.3C651.8,252.5 637.6,335.1 626.9,337.6C616.2,340.1 601.9,277.8 591.2,271C580.5,264.2 566.3,286.2 555.6,292.5C544.9,298.8 530.6,322 520,313C509.3,304 495,227.2 484.3,232.3Z"/>
<path fill="#ffff99" d="M591.2,262.5C601.9,270 616.2,340.2 626.9,337.6C637.6,335 651.8,244.4 662.5,245.3C673.2,246.2 687.5,334.6 698.2,343.3C708.9,352 723.1,305.3 733.8,303.5C744.5,301.7 758.8,319.5 769.5,331.4C780.2,343.3 794.4,376.9 805.1,382.6C815.8,388.3 830.1,366.6 840.8,369.3C851.4,372 865.7,398.5 876.4,400.6C887.1,402.7 901.4,383.9 912,383.1C922.7,382.3 937,391.6 947.7,395.5C958.4,399.4 972.6,407.1 983.3,409L983.3,409C972.6,407.1 958.4,398.7 947.7,395.5C937,392.3 922.7,386.8 912,387.6C901.4,388.4 887.1,402.6 876.4,400.6C865.7,398.6 851.4,376.8 840.8,374.1C830.1,371.4 815.8,388.8 805.1,382.6C794.4,376.4 780.2,343 769.5,333C758.8,323 744.5,314.5 733.8,316C723.1,317.5 708.9,353.2 698.2,343.3C687.5,333.4 673.2,251.2 662.5,250.3C651.8,249.4 637.6,335.8 626.9,337.6C616.2,339.4 601.9,270 591.2,262.5Z"/>
<path fill="#b15928" d="M520,313C530.6,321.3 544.9,295.9 555.6,287.7C566.3,279.5 580.5,250.6 591.2,258.1C601.9,265.6 616.2,340.2 626.9,337.6C637.6,335 651.8,242.6 662.5,240.8C673.2,239 687.5,317.8 698.2,325.8C708.9,333.8 723.1,295.2 733.8,294.4C744.5,293.6 758.8,308.7 769.5,320.7C780.2,332.7 794.4,367.5 805.1,374.1C815.8,380.7 830.1,361.2 840.8,364.5C851.4,367.8 865.7,393.5 876.4,396.1C887.1,398.7 901.4,383.3 912,382C922.7,380.7 937,383.6 947.7,387.6C958.4,391.7 972.6,406.5 983.3,409C994,411.5 1008.3,405.8 1019,404.5C1029.7,403.2 1043.9,400.7 1054.6,400.6C1065.3,400.5 1079.6,402.7 1090.3,404C1101,405.3 1115.2,408.2 1125.9,409L1125.9,409C1115.2,408.2 1101,404.5 1090.3,404C1079.6,403.5 1065.3,405.1 1054.6,405.7C1043.9,406.3 1029.7,407.5 1019,408C1008.3,408.5 994,410.9 983.3,409C972.6,407.1 958.4,399.4 947.7,395.5C937,391.6 922.7,382.3 912,383.1C901.4,383.9 887.1,402.7 876.4,400.6C865.7,398.5 851.4,372 840.8,369.3C830.1,366.6 815.8,388.3 805.1,382.6C794.4,376.9 780.2,343.3 769.5,331.4C758.8,319.5 744.5,301.7 733.8,303.5C723.1,305.3 708.9,352 698.2,343.3C687.5,334.6 673.2,246.2 662.5,245.3C651.8,244.4 637.6,335 626.9,337.6C616.2,340.2 601.9,270 591.2,262.5C580.5,255 566.3,280.1 555.6,287.7C544.9,295.3 530.6,321.3 520,313Z"/>
<path fill="#a6cee3" d="M163.5,399.8C182.5,403.9 194.4,405.6 199.1,404.8C209.8,403 224.1,392.7 234.8,388C245.5,383.3 259.7,381.8 270.4,373.5C281.1,365.2 295.4,340.8 306.1,333C316.8,325.2 331,330.4 341.7,321.8C352.4,313.2 366.7,281.4 377.4,276C388.1,270.6 402.3,274.9 413,285.5L413,285.5C402.3,274.9 388.1,270.3 377.4,276C366.7,281.7 352.4,314.3 341.7,323.5C331,332.7 316.8,329.7 306.1,337.2C295.4,344.7 281.1,365.9 270.4,373.5C259.7,381.1 245.5,382.7 234.8,388C224.1,393.3 209.8,407.1 199.1,409C194.4,409.9 182.5,407.2 163.5,400.9ZM626.9,337.6C637.6,335 651.8,243.5 662.5,240.8C673.2,238.1 687.5,315.1 698.2,319.6C708.9,324.1 723.1,276 733.8,271C744.5,266 758.8,273.3 769.5,286.3C780.2,299.3 794.4,348 805.1,357.8C815.8,367.6 830.1,347.9 840.8,351.5C851.4,355.1 865.7,379.1 876.4,382C887.1,384.9 901.4,370.4 912,370.7C922.7,371 937,379.1 947.7,384.2C958.4,389.3 972.6,401.6 983.3,404.6C994,407.6 1008.3,405.1 1019,404.5C1029.7,403.9 1043.9,400.7 1054.6,400.6L1054.6,400.6C1043.9,400.7 1029.7,403.2 1019,404.5C1008.3,405.8 994,411.5 983.3,409C972.6,406.5 958.4,391.7 947.7,387.6C937,383.6 922.7,380.7 912,382C901.4,383.3 887.1,398.7 876.4,396.1C865.7,393.5 851.4,367.8 840.8,364.5C830.1,361.2 815.8,380.7 805.1,374.1C794.4,367.5 780.2,332.7 769.5,320.7C758.8,308.7 744.5,293.6 733.8,294.4C723.1,295.2 708.9,333.8 698.2,325.8C687.5,317.8 673.2,239 662.5,240.8C651.8,242.6 637.6,335 626.9,337.6Z"/>
<path fill="#1f78b4" d="M448.7,346.9C459.4,338.9 473.6,238 484.3,232.3C495,226.6 509.3,300.4 520,308.7C530.6,317 544.9,295.3 555.6,287.7C566.3,280.1 580.5,250.6 591.2,258.1L591.2,258.1C580.5,250.6 566.3,279.5 555.6,287.7C544.9,295.9 530.6,321.3 520,313C509.3,304.7 495,227.2 484.3,232.3C473.6,237.4 459.4,338.9 448.7,346.9ZM662.5,240.8C673.2,238.1 687.5,318.4 698.2,319.6C708.9,320.8 723.1,255.7 733.8,249C744.5,242.3 758.8,258.9 769.5,275.2C780.2,291.5 794.4,346.4 805.1,357.8C815.8,369.2 830.1,349.4 840.8,351.5C851.4,353.6 865.7,369.1 876.4,372C887.1,374.9 901.4,368.9 912,370.7C922.7,372.5 937,379.8 947.7,384.2C958.4,388.6 972.6,397 983.3,400C994,403 1008.3,404.4 1019,404.5C1029.7,404.6 1043.9,400.7 1054.6,400.6L1054.6,400.6C1043.9,400.7 1029.7,403.9 1019,404.5C1008.3,405.1 994,407.6 983.3,404.6C972.6,401.6 958.4,389.3 947.7,384.2C937,379.1 922.7,371 912,370.7C901.4,370.4 887.1,384.9 876.4,382C865.7,379.1 851.4,355.1 840.8,351.5C830.1,347.9 815.8,367.6 805.1,357.8C794.4,348 780.2,299.3 769.5,286.3C758.8,273.3 744.5,266 733.8,271C723.1,276 708.9,324.1 698.2,319.6C687.5,315.1 673.2,238.1 662.5,240.8Z"/>
<path fill="#b2df8a" d="M163.5,396.1C182.5,399.3 194.4,400.6 199.1,400C209.8,398.7 224.1,391.5 234.8,387.5C245.5,383.5 259.7,381.7 270.4,373.5C281.1,365.3 295.4,340.8 306.1,333L306.1,333C295.4,340.8 281.1,365.2 270.4,373.5C259.7,381.8 245.5,383.3 234.8,388C224.1,392.7 209.8,403 199.1,404.8C194.4,405.6 182.5,403.9 163.5,399.8ZM377.4,276C388.1,270.6 402.3,275.1 413,285.5C423.7,295.9 438,354.2 448.7,345.5C459.4,336.8 473.6,233.3 484.3,227.8C495,222.3 509.3,301 520,308.7C530.6,316.4 544.9,286.9 555.6,279.3C566.3,271.7 580.5,250 591.2,258.1C601.9,266.2 616.2,335.7 626.9,333.1C637.6,330.5 651.8,244.1 662.5,240.8C673.2,237.5 687.5,311.8 698.2,311.1C708.9,310.4 723.1,247.5 733.8,236C744.5,224.5 758.8,218.1 769.5,234.5C780.2,250.9 794.4,331.9 805.1,345.5C815.8,359.1 830.1,323.7 840.8,325.2C851.4,326.7 865.7,349.6 876.4,355.7C887.1,361.8 901.4,361.3 912,365.6C922.7,369.9 937,379 947.7,384.2C958.4,389.4 972.6,397 983.3,400L983.3,400C972.6,397 958.4,388.6 947.7,384.2C937,379.8 922.7,372.5 912,370.7C901.4,368.9 887.1,374.9 876.4,372C865.7,369.1 851.4,353.6 840.8,351.5C830.1,349.4 815.8,369.2 805.1,357.8C794.4,346.4 780.2,291.5 769.5,275.2C758.8,258.9 744.5,242.3 733.8,249C723.1,255.7 708.9,320.8 698.2,319.6C687.5,318.4 673.2,238.1 662.5,240.8C651.8,243.5 637.6,335 626.9,337.6C616.2,340.2 601.9,265.6 591.2,258.1C580.5,250.6 566.3,280.1 555.6,287.7C544.9,295.3 530.6,317 520,308.7C509.3,300.4 495,226.6 484.3,232.3C473.6,238 459.4,338.9 448.7,346.9C438,354.9 423.7,296.1 413,285.5C402.3,274.9 388.1,270.6 377.4,276Z"/>
<path fill="#33a02c" d="M163.5,391.6C182.5,397.7 194.4,400.4 199.1,399.8C209.8,398.4 224.1,386.3 234.8,382.4C245.5,378.5 259.7,380.9 270.4,373.5C281.1,366.1 295.4,340.8 306.1,333L306.1,333C295.4,340.8 281.1,365.3 270.4,373.5C259.7,381.7 245.5,383.5 234.8,387.5C224.1,391.5 209.8,398.7 199.1,400C194.4,400.6 182.5,399.3 163.5,396.1ZM341.7,321.8C352.4,313.2 366.7,282.7 377.4,276C388.1,269.3 402.3,266.6 413,277C423.7,287.4 438,352.9 448.7,345.5C459.4,338.1 473.6,233.3 484.3,227.8C495,222.3 509.3,302.8 520,308.7C530.6,314.6 544.9,274.5 555.6,266.9C566.3,259.3 580.5,248.2 591.2,258.1C601.9,268 616.2,335.7 626.9,333.1C637.6,330.5 651.8,246 662.5,240.8C673.2,235.6 687.5,299.4 698.2,298.7C708.9,298 723.1,247.5 733.8,236C744.5,224.5 758.8,205.6 769.5,222C780.2,238.4 794.4,330 805.1,345.5C815.8,361 830.1,323.7 840.8,325.2L840.8,325.2C830.1,323.7 815.8,359.1 805.1,345.5C794.4,331.9 780.2,250.9 769.5,234.5C758.8,218.1 744.5,224.5 733.8,236C723.1,247.5 708.9,310.4 698.2,311.1C687.5,311.8 673.2,237.5 662.5,240.8C651.8,244.1 637.6,330.5 626.9,333.1C616.2,335.7 601.9,266.2 591.2,258.1C580.5,250 566.3,271.7 555.6,279.3C544.9,286.9 530.6,316.4 520,308.7C509.3,301 495,222.3 484.3,227.8C473.6,233.3 459.4,336.8 448.7,345.5C438,354.2 423.7,295.9 413,285.5C402.3,275.1 388.1,270.6 377.4,276C366.7,281.4 352.4,313.2 341.7,321.8Z"/>
<path fill="#fb9a99" d="M448.7,345.5C459.4,338.1 473.6,234 484.3,227.8C495,221.6 509.3,298.1 520,304C530.6,309.9 544.9,273.8 555.6,266.9C566.3,260 580.5,248.2 591.2,258.1L591.2,258.1C580.5,248.2 566.3,259.3 555.6,266.9C544.9,274.5 530.6,314.6 520,308.7C509.3,302.8 495,222.3 484.3,227.8C473.6,233.3 459.4,338.1 448.7,345.5ZM698.2,298.7C708.9,298 723.1,247.9 733.8,236C744.5,224.1 758.8,203.7 769.5,219.5C780.2,235.3 794.4,326.9 805.1,341.4C815.8,355.9 830.1,314.8 840.8,316.2C851.4,317.6 865.7,343.5 876.4,350.4C887.1,357.3 901.4,357.1 912,362.2C922.7,367.3 937,378.5 947.7,384.2C958.4,389.9 972.6,397 983.3,400L983.3,400C972.6,397 958.4,389.4 947.7,384.2C937,379 922.7,369.9 912,365.6C901.4,361.3 887.1,361.8 876.4,355.7C865.7,349.6 851.4,326.7 840.8,325.2C830.1,323.7 815.8,361 805.1,345.5C794.4,330 780.2,238.4 769.5,222C758.8,205.6 744.5,224.5 733.8,236C723.1,247.5 708.9,298 698.2,298.7Z"/>
<path fill="#e31a1c" d="M377.4,276C388.1,269.3 402.3,266.8 413,277C423.7,287.2 438,352.3 448.7,344.2C459.4,336.1 473.6,229.3 484.3,223.3C495,217.3 509.3,297.5 520,304C530.6,310.5 544.9,273.8 555.6,266.9L555.6,266.9C544.9,273.8 530.6,309.9 520,304C509.3,298.1 495,221.6 484.3,227.8C473.6,234 459.4,338.1 448.7,345.5C438,352.9 423.7,287.4 413,277C402.3,266.6 388.1,269.3 377.4,276ZM662.5,240.8C673.2,235.6 687.5,301 698.2,298.7C708.9,296.4 723.1,239.7 733.8,225.5C744.5,211.3 758.8,189.1 769.5,204.3C780.2,219.5 794.4,315.4 805.1,326.9C815.8,338.4 830.1,278.3 840.8,280.8C851.4,283.3 865.7,335.4 876.4,343.3C887.1,351.2 901.4,328.3 912,333.7C922.7,339.1 937,369.9 947.7,379.2C958.4,388.5 972.6,392.2 983.3,396C994,399.8 1008.3,404.5 1019,404.5C1029.7,404.5 1043.9,396.2 1054.6,396.1C1065.3,396 1079.6,402.7 1090.3,404C1101,405.3 1115.2,403.9 1125.9,404.7C1136.6,405.4 1150.9,408.4 1161.6,409C1172.3,409.6 1186.5,409 1197.2,409L1197.2,409C1186.5,409 1172.3,409 1161.6,409C1150.9,409 1136.6,409.8 1125.9,409C1115.2,408.2 1101,405.3 1090.3,404C1079.6,402.7 1065.3,400.5 1054.6,400.6C1043.9,400.7 1029.7,404.6 1019,404.5C1008.3,404.4 994,403 983.3,400C972.6,397 958.4,389.9 947.7,384.2C937,378.5 922.7,367.3 912,362.2C901.4,357.1 887.1,357.3 876.4,350.4C865.7,343.5 851.4,317.6 840.8,316.2C830.1,314.8 815.8,355.9 805.1,341.4C794.4,326.9 780.2,235.3 769.5,219.5C758.8,203.7 744.5,224.1 733.8,236C723.1,247.9 708.9,298 698.2,298.7C687.5,299.4 673.2,235.6 662.5,240.8Z"/>
<path fill="#fdbf6f" d="M555.6,266.9C566.3,260 580.5,248.8 591.2,258.1C601.9,267.4 616.2,331.8 626.9,328.6C637.6,325.4 651.8,242 662.5,236.8C673.2,231.6 687.5,296.6 698.2,294.2C708.9,291.8 723.1,238.1 733.8,221C744.5,203.9 758.8,164.1 769.5,180C780.2,195.9 794.4,314.4 805.1,326.9C815.8,339.4 830.1,261.2 840.8,263.3C851.4,265.4 865.7,331.1 876.4,341C887.1,350.9 901.4,323.4 912,329.1C922.7,334.8 937,369.2 947.7,379.2C958.4,389.2 972.6,392.7 983.3,396C994,399.3 1008.3,401.2 1019,401.2C1029.7,401.2 1043.9,395.7 1054.6,396.1C1065.3,396.5 1079.6,403.4 1090.3,404C1101,404.6 1115.2,399.2 1125.9,400C1136.6,400.8 1150.9,407.6 1161.6,409C1172.3,410.4 1186.5,409 1197.2,409L1197.2,409C1186.5,409 1172.3,409.6 1161.6,409C1150.9,408.4 1136.6,405.4 1125.9,404.7C1115.2,403.9 1101,405.3 1090.3,404C1079.6,402.7 1065.3,396 1054.6,396.1C1043.9,396.2 1029.7,404.5 1019,404.5C1008.3,404.5 994,399.8 983.3,396C972.6,392.2 958.4,388.5 947.7,379.2C937,369.9 922.7,339.1 912,333.7C901.4,328.3 887.1,351.2 876.4,343.3C865.7,335.4 851.4,283.3 840.8,280.8C830.1,278.3 815.8,338.4 805.1,326.9C794.4,315.4 780.2,219.5 769.5,204.3C758.8,189.1 744.5,211.3 733.8,225.5C723.1,239.7 708.9,296.4 698.2,298.7C687.5,301 673.2,235.6 662.5,240.8C651.8,246 637.6,330.5 626.9,333.1C616.2,335.7 601.9,268 591.2,258.1C580.5,248.2 566.3,260 555.6,266.9Z"/>
<path fill="#ff7f00" d="M484.3,223.3C495,217.3 509.3,297.5 520,304C530.6,310.5 544.9,273.8 555.6,266.4C566.3,259 580.5,245.7 591.2,255C601.9,264.3 616.2,331.3 626.9,328.6C637.6,325.9 651.8,242 662.5,236.8C673.2,231.6 687.5,298.1 698.2,294.2C708.9,290.3 723.1,229.7 733.8,211C744.5,192.3 758.8,153.3 769.5,169.3C780.2,185.3 794.4,303.4 805.1,317.5C815.8,331.6 830.1,259.8 840.8,263.3C851.4,266.8 865.7,331.1 876.4,341L876.4,341C865.7,331.1 851.4,265.4 840.8,263.3C830.1,261.2 815.8,339.4 805.1,326.9C794.4,314.4 780.2,195.9 769.5,180C758.8,164.1 744.5,203.9 733.8,221C723.1,238.1 708.9,291.8 698.2,294.2C687.5,296.6 673.2,231.6 662.5,236.8C651.8,242 637.6,325.4 626.9,328.6C616.2,331.8 601.9,267.4 591.2,258.1C580.5,248.8 566.3,260 555.6,266.9C544.9,273.8 530.6,310.5 520,304C509.3,297.5 495,217.3 484.3,223.3Z"/>
<path fill="#cab2d6" d="M163.5,391.6C182.5,395.9 194.4,397.6 199.1,396.7C209.8,394.6 224.1,381.3 234.8,377.8C245.5,374.3 259.7,380.7 270.4,373.5C281.1,366.3 295.4,337.6 306.1,329.5C316.8,321.4 331,327.3 341.7,319.3C352.4,311.3 366.7,282.3 377.4,276C388.1,269.7 402.3,266.8 413,277L413,277C402.3,266.8 388.1,269.3 377.4,276C366.7,282.7 352.4,313.2 341.7,321.8C331,330.4 316.8,325.2 306.1,333C295.4,340.8 281.1,366.1 270.4,373.5C259.7,380.9 245.5,378.5 234.8,382.4C224.1,386.3 209.8,398.4 199.1,399.8C194.4,400.4 182.5,397.7 163.5,391.6ZM662.5,236.8C673.2,231.6 687.5,299.4 698.2,294.2C708.9,289 723.1,224.1 733.8,202C744.5,179.9 758.8,133.5 769.5,146.9C780.2,160.3 794.4,276.2 805.1,291.5C815.8,306.8 830.1,242.5 840.8,249.2C851.4,255.9 865.7,324.8 876.4,336C887.1,347.2 901.4,318.3 912,324.1C922.7,329.9 937,364 947.7,374.7C958.4,385.4 972.6,391.5 983.3,395.5C994,399.5 1008.3,402.4 1019,401.2C1029.7,400 1043.9,387.2 1054.6,387.6C1065.3,388 1079.6,402.1 1090.3,404C1101,405.9 1115.2,399.2 1125.9,400L1125.9,400C1115.2,399.2 1101,404.6 1090.3,404C1079.6,403.4 1065.3,396.5 1054.6,396.1C1043.9,395.7 1029.7,401.2 1019,401.2C1008.3,401.2 994,399.3 983.3,396C972.6,392.7 958.4,389.2 947.7,379.2C937,369.2 922.7,334.8 912,329.1C901.4,323.4 887.1,350.9 876.4,341C865.7,331.1 851.4,266.8 840.8,263.3C830.1,259.8 815.8,331.6 805.1,317.5C794.4,303.4 780.2,185.3 769.5,169.3C758.8,153.3 744.5,192.3 733.8,211C723.1,229.7 708.9,290.3 698.2,294.2C687.5,298.1 673.2,231.6 662.5,236.8Z"/>
<path fill="#6a3d9a" d="M484.3,223.3C495,217.3 509.3,298.3 520,304C530.6,309.7 544.9,268.8 555.6,261.4C566.3,254 580.5,244.9 591.2,255C601.9,265.1 616.2,331.3 626.9,328.6L626.9,328.6C616.2,331.3 601.9,264.3 591.2,255C580.5,245.7 566.3,259 555.6,266.4C544.9,273.8 530.6,310.5 520,304C509.3,297.5 495,217.3 484.3,223.3ZM698.2,294.2C708.9,289 723.1,226 733.8,202C744.5,178 758.8,121.8 769.5,134.5C780.2,147.2 794.4,270.4 805.1,287C815.8,303.6 830.1,238 840.8,245.3C851.4,252.7 865.7,324.8 876.4,336C887.1,347.2 901.4,314.3 912,320.1C922.7,325.9 937,363.4 947.7,374.7C958.4,386 972.6,391.5 983.3,395.5L983.3,395.5C972.6,391.5 958.4,385.4 947.7,374.7C937,364 922.7,329.9 912,324.1C901.4,318.3 887.1,347.2 876.4,336C865.7,324.8 851.4,255.9 840.8,249.2C830.1,242.5 815.8,306.8 805.1,291.5C794.4,276.2 780.2,160.3 769.5,146.9C758.8,133.5 744.5,179.9 733.8,202C723.1,224.1 708.9,289 698.2,294.2ZM1019,401.2C1029.7,400 1043.9,387.6 1054.6,387.6C1065.3,387.6 1079.6,399.3 1090.3,401.2C1101,403.1 1115.2,398.8 1125.9,400C1136.6,401.2 1150.9,407.6 1161.6,409L1161.6,409C1150.9,407.6 1136.6,400.8 1125.9,400C1115.2,399.2 1101,405.9 1090.3,404C1079.6,402.1 1065.3,388 1054.6,387.6C1043.9,387.2 1029.7,400 1019,401.2Z"/>
<path fill="#ffff99" d="M163.5,391.6C182.5,396.3 194.4,398 199.1,396.7C209.8,393.9 224.1,376.8 234.8,372.8C245.5,368.8 259.7,376.7 270.4,370.1C281.1,363.5 295.4,337.3 306.1,329C316.8,320.7 331,322.6 341.7,314.6C352.4,306.7 366.7,281.6 377.4,276C388.1,270.4 402.3,266.9 413,277C423.7,287.1 438,352 448.7,343.3C459.4,334.6 473.6,224.9 484.3,219C495,213.1 509.3,297.6 520,304C530.6,310.4 544.9,268.8 555.6,261.4L555.6,261.4C544.9,268.8 530.6,309.7 520,304C509.3,298.3 495,217.3 484.3,223.3C473.6,229.3 459.4,336.1 448.7,344.2C438,352.3 423.7,287.2 413,277C402.3,266.8 388.1,269.7 377.4,276C366.7,282.3 352.4,311.3 341.7,319.3C331,327.3 316.8,321.4 306.1,329.5C295.4,337.6 281.1,366.3 270.4,373.5C259.7,380.7 245.5,374.3 234.8,377.8C224.1,381.3 209.8,394.6 199.1,396.7C194.4,397.6 182.5,395.9 163.5,391.6ZM698.2,294.2C708.9,289 723.1,226.7 733.8,202C744.5,177.3 758.8,117.4 769.5,129.5C780.2,141.6 794.4,265.1 805.1,282.5C815.8,299.9 830.1,237.9 840.8,245.3C851.4,252.7 865.7,320.8 876.4,332C887.1,343.2 901.4,313.7 912,320.1C922.7,326.5 937,363.4 947.7,374.7L947.7,374.7C937,363.4 922.7,325.9 912,320.1C901.4,314.3 887.1,347.2 876.4,336C865.7,324.8 851.4,252.7 840.8,245.3C830.1,238 815.8,303.6 805.1,287C794.4,270.4 780.2,147.2 769.5,134.5C758.8,121.8 744.5,178 733.8,202C723.1,226 708.9,289 698.2,294.2Z"/>
<path fill="#b15928" d="M698.2,294.2C708.9,289 723.1,227.8 733.8,202C744.5,176.2 758.8,111.8 769.5,122C780.2,132.2 794.4,253.7 805.1,270.1C815.8,286.5 830.1,223.9 840.8,231.2C851.4,238.5 865.7,305.7 876.4,318.5C887.1,331.3 901.4,311.7 912,316.7C922.7,321.7 937,342.9 947.7,352.1C958.4,361.3 972.6,370.7 983.3,378.1C994,385.5 1008.3,399.8 1019,401.2C1029.7,402.6 1043.9,387.6 1054.6,387.6L1054.6,387.6C1043.9,387.6 1029.7,400 1019,401.2C1008.3,402.4 994,399.5 983.3,395.5C972.6,391.5 958.4,386 947.7,374.7C937,363.4 922.7,326.5 912,320.1C901.4,313.7 887.1,343.2 876.4,332C865.7,320.8 851.4,252.7 840.8,245.3C830.1,237.9 815.8,299.9 805.1,282.5C794.4,265.1 780.2,141.6 769.5,129.5C758.8,117.4 744.5,177.3 733.8,202C723.1,226.7 708.9,289 698.2,294.2Z"/>
<path fill="#a6cee3" d="M341.7,314.6C352.4,306.7 366.7,281.9 377.4,276C388.1,270.1 402.3,265.8 413,275.2C423.7,284.6 438,347.3 448.7,338.9C459.4,330.5 473.6,224.5 484.3,219C495,213.5 509.3,297.1 520,302.3C530.6,307.5 544.9,260.7 555.6,253.6C566.3,246.5 580.5,243.8 591.2,255C601.9,266.2 616.2,331.3 626.9,328.6L626.9,328.6C616.2,331.3 601.9,265.1 591.2,255C580.5,244.9 566.3,254 555.6,261.4C544.9,268.8 530.6,310.4 520,304C509.3,297.6 495,213.1 484.3,219C473.6,224.9 459.4,334.6 448.7,343.3C438,352 423.7,287.1 413,277C402.3,266.9 388.1,270.4 377.4,276C366.7,281.6 352.4,306.7 341.7,314.6ZM698.2,294.2C708.9,289 723.1,228.5 733.8,202C744.5,175.5 758.8,108 769.5,117.5C780.2,127 794.4,247.9 805.1,265C815.8,282.1 830.1,223.7 840.8,231.2C851.4,238.7 865.7,302.2 876.4,315C887.1,327.8 901.4,311.1 912,316.7C922.7,322.3 937,344.1 947.7,352.1C958.4,360.1 972.6,364.4 983.3,370.3C994,376.2 1008.3,390.3 1019,391.5C1029.7,392.7 1043.9,377.1 1054.6,378.6C1065.3,380.1 1079.6,398 1090.3,401.2C1101,404.4 1115.2,398.8 1125.9,400L1125.9,400C1115.2,398.8 1101,403.1 1090.3,401.2C1079.6,399.3 1065.3,387.6 1054.6,387.6C1043.9,387.6 1029.7,402.6 1019,401.2C1008.3,399.8 994,385.5 983.3,378.1C972.6,370.7 958.4,361.3 947.7,352.1C937,342.9 922.7,321.7 912,316.7C901.4,311.7 887.1,331.3 876.4,318.5C865.7,305.7 851.4,238.5 840.8,231.2C830.1,223.9 815.8,286.5 805.1,270.1C794.4,253.7 780.2,132.2 769.5,122C758.8,111.8 744.5,176.2 733.8,202C723.1,227.8 708.9,289 698.2,294.2Z"/>
<path fill="#1f78b4" d="M199.1,396.7C209.8,393.9 224.1,376.9 234.8,372.8C245.5,368.7 259.7,376.4 270.4,369.2C281.1,362 295.4,334.6 306.1,324.6C316.8,314.6 331,310.9 341.7,302.4C352.4,293.9 366.7,274.6 377.4,268.2C388.1,261.8 402.3,253.5 413,259.5C423.7,265.5 438,317.9 448.7,307.9C459.4,297.9 473.6,194.3 484.3,193C495,191.7 509.3,290.5 520,299C530.6,307.5 544.9,256.6 555.6,249.6C566.3,242.6 580.5,241.1 591.2,252.2C601.9,263.3 616.2,325.8 626.9,323.5C637.6,321.2 651.8,241.2 662.5,236.8C673.2,232.4 687.5,299.4 698.2,294.2L698.2,294.2C687.5,299.4 673.2,231.6 662.5,236.8C651.8,242 637.6,325.9 626.9,328.6C616.2,331.3 601.9,266.2 591.2,255C580.5,243.8 566.3,246.5 555.6,253.6C544.9,260.7 530.6,307.5 520,302.3C509.3,297.1 495,213.5 484.3,219C473.6,224.5 459.4,330.5 448.7,338.9C438,347.3 423.7,284.6 413,275.2C402.3,265.8 388.1,270.1 377.4,276C366.7,281.9 352.4,306.7 341.7,314.6C331,322.6 316.8,320.7 306.1,329C295.4,337.3 281.1,363.5 270.4,370.1C259.7,376.7 245.5,368.8 234.8,372.8C224.1,376.8 209.8,393.9 199.1,396.7ZM733.8,202C744.5,175.5 758.8,108.8 769.5,117.5C780.2,126.2 794.4,243.5 805.1,259.9C815.8,276.3 830.1,218.8 840.8,226.6C851.4,234.4 865.7,298.1 876.4,311.6C887.1,325.1 901.4,311.3 912,316.7C922.7,322.1 937,339.8 947.7,347.8C958.4,355.8 972.6,363.9 983.3,370.3C994,376.7 1008.3,390.2 1019,390.2C1029.7,390.2 1043.9,369.9 1054.6,370.1C1065.3,370.3 1079.6,387.1 1090.3,391.6C1101,396.1 1115.2,397.4 1125.9,400C1136.6,402.6 1150.9,407.6 1161.6,409L1161.6,409C1150.9,407.6 1136.6,401.2 1125.9,400C1115.2,398.8 1101,404.4 1090.3,401.2C1079.6,398 1065.3,380.1 1054.6,378.6C1043.9,377.1 1029.7,392.7 1019,391.5C1008.3,390.3 994,376.2 983.3,370.3C972.6,364.4 958.4,360.1 947.7,352.1C937,344.1 922.7,322.3 912,316.7C901.4,311.1 887.1,327.8 876.4,315C865.7,302.2 851.4,238.7 840.8,231.2C830.1,223.7 815.8,282.1 805.1,265C794.4,247.9 780.2,127 769.5,117.5C758.8,108 744.5,175.5 733.8,202Z"/>
<path fill="#b2df8a" d="M270.4,369.2C281.1,362 295.4,335.9 306.1,324.6C316.8,313.3 331,302.7 341.7,294C352.4,285.3 366.7,274.5 377.4,266.6C388.1,258.7 402.3,238.4 413,241.5C423.7,244.6 438,298.2 448.7,287C459.4,275.8 473.6,165.3 484.3,166.5C495,167.7 509.3,285.3 520,295.2C530.6,305.1 544.9,238.7 555.6,232.2C566.3,225.7 580.5,238.1 591.2,251.8C601.9,265.5 616.2,325.8 626.9,323.5C637.6,321.2 651.8,241.2 662.5,236.8L662.5,236.8C651.8,241.2 637.6,321.2 626.9,323.5C616.2,325.8 601.9,263.3 591.2,252.2C580.5,241.1 566.3,242.6 555.6,249.6C544.9,256.6 530.6,307.5 520,299C509.3,290.5 495,191.7 484.3,193C473.6,194.3 459.4,297.9 448.7,307.9C438,317.9 423.7,265.5 413,259.5C402.3,253.5 388.1,261.8 377.4,268.2C366.7,274.6 352.4,293.9 341.7,302.4C331,310.9 316.8,314.6 306.1,324.6C295.4,334.6 281.1,362 270.4,369.2ZM876.4,311.6C887.1,325.1 901.4,312.7 912,316.7C922.7,320.7 937,331.3 947.7,338.5C958.4,345.7 972.6,357.5 983.3,364.8C994,372.1 1008.3,386.2 1019,387C1029.7,387.8 1043.9,369.4 1054.6,370.1C1065.3,370.8 1079.6,387.1 1090.3,391.6L1090.3,391.6C1079.6,387.1 1065.3,370.3 1054.6,370.1C1043.9,369.9 1029.7,390.2 1019,390.2C1008.3,390.2 994,376.7 983.3,370.3C972.6,363.9 958.4,355.8 947.7,347.8C937,339.8 922.7,322.1 912,316.7C901.4,311.3 887.1,325.1 876.4,311.6Z"/>
<path fill="#33a02c" d="M662.5,236.8C673.2,232.4 687.5,300.2 698.2,294.2C708.9,288.2 723.1,225.5 733.8,197C744.5,168.5 758.8,97.3 769.5,104.5C780.2,111.7 794.4,227.8 805.1,245C815.8,262.2 830.1,214.5 840.8,219C851.4,223.5 865.7,264.4 876.4,275C887.1,285.6 901.4,283 912,290C922.7,297 937,310.4 947.7,321.6C958.4,332.8 972.6,356.3 983.3,364.8C994,373.3 1008.3,378.6 1019,378C1029.7,377.4 1043.9,358.6 1054.6,360.5C1065.3,362.4 1079.6,385.8 1090.3,391C1101,396.2 1115.2,392.8 1125.9,395.5C1136.6,398.2 1150.9,407 1161.6,409C1172.3,411 1186.5,409 1197.2,409L1197.2,409C1186.5,409 1172.3,410.4 1161.6,409C1150.9,407.6 1136.6,402.6 1125.9,400C1115.2,397.4 1101,396.1 1090.3,391.6C1079.6,387.1 1065.3,370.8 1054.6,370.1C1043.9,369.4 1029.7,387.8 1019,387C1008.3,386.2 994,372.1 983.3,364.8C972.6,357.5 958.4,345.7 947.7,338.5C937,331.3 922.7,320.7 912,316.7C901.4,312.7 887.1,325.1 876.4,311.6C865.7,298.1 851.4,234.4 840.8,226.6C830.1,218.8 815.8,276.3 805.1,259.9C794.4,243.5 780.2,126.2 769.5,117.5C758.8,108.8 744.5,175.5 733.8,202C723.1,228.5 708.9,289 698.2,294.2C687.5,299.4 673.2,232.4 662.5,236.8Z"/>
<path fill="#fb9a99" d="M555.6,232.2C566.3,225.7 580.5,239.1 591.2,251.8C601.9,264.5 616.2,318.9 626.9,316.7C637.6,314.4 651.8,240.2 662.5,236.8C673.2,233.4 687.5,300.2 698.2,294.2C708.9,288.2 723.1,226.7 733.8,197C744.5,167.3 758.8,90.8 769.5,96C780.2,101.2 794.4,214.1 805.1,231.5C815.8,248.9 830.1,208.8 840.8,212.2C851.4,215.6 865.7,246.8 876.4,254.5C887.1,262.2 901.4,253.4 912,263.5C922.7,273.6 937,307 947.7,321.6C958.4,336.2 972.6,353.2 983.3,361.1C994,369 1008.3,374.1 1019,374C1029.7,373.9 1043.9,357.9 1054.6,360.5C1065.3,363.1 1079.6,385.8 1090.3,391L1090.3,391C1079.6,385.8 1065.3,362.4 1054.6,360.5C1043.9,358.6 1029.7,377.4 1019,378C1008.3,378.6 994,373.3 983.3,364.8C972.6,356.3 958.4,332.8 947.7,321.6C937,310.4 922.7,297 912,290C901.4,283 887.1,285.6 876.4,275C865.7,264.4 851.4,223.5 840.8,219C830.1,214.5 815.8,262.2 805.1,245C794.4,227.8 780.2,111.7 769.5,104.5C758.8,97.3 744.5,168.5 733.8,197C723.1,225.5 708.9,288.2 698.2,294.2C687.5,300.2 673.2,232.4 662.5,236.8C651.8,241.2 637.6,321.2 626.9,323.5C616.2,325.8 601.9,265.5 591.2,251.8C580.5,238.1 566.3,225.7 555.6,232.2Z"/>
<path fill="#e31a1c" d="M698.2,294.2C708.9,288.2 723.1,229.4 733.8,197C744.5,164.6 758.8,75.4 769.5,78.3C780.2,81.2 794.4,197.7 805.1,216.2C815.8,234.7 830.1,197.9 840.8,201.5C851.4,205.1 865.7,230.7 876.4,240C887.1,249.3 901.4,251.3 912,263.5C922.7,275.7 937,307 947.7,321.6L947.7,321.6C937,307 922.7,273.6 912,263.5C901.4,253.4 887.1,262.2 876.4,254.5C865.7,246.8 851.4,215.6 840.8,212.2C830.1,208.8 815.8,248.9 805.1,231.5C794.4,214.1 780.2,101.2 769.5,96C758.8,90.8 744.5,167.3 733.8,197C723.1,226.7 708.9,288.2 698.2,294.2Z"/>
<path fill="#fdbf6f" d="M733.8,197C744.5,164.6 758.8,76 769.5,78.3C780.2,80.6 794.4,194.1 805.1,212.6C815.8,231.1 830.1,198.7 840.8,201.5C851.4,204.3 865.7,223.3 876.4,231.2C887.1,239.1 901.4,240.5 912,254C922.7,267.5 937,305.7 947.7,321C958.4,336.3 972.6,348.2 983.3,356.1C994,364.1 1008.3,374 1019,374C1029.7,374 1043.9,353.4 1054.6,356C1065.3,358.6 1079.6,385.1 1090.3,391C1101,396.9 1115.2,392.8 1125.9,395.5L1125.9,395.5C1115.2,392.8 1101,396.2 1090.3,391C1079.6,385.8 1065.3,363.1 1054.6,360.5C1043.9,357.9 1029.7,373.9 1019,374C1008.3,374.1 994,369 983.3,361.1C972.6,353.2 958.4,336.2 947.7,321.6C937,307 922.7,275.7 912,263.5C901.4,251.3 887.1,249.3 876.4,240C865.7,230.7 851.4,205.1 840.8,201.5C830.1,197.9 815.8,234.7 805.1,216.2C794.4,197.7 780.2,81.2 769.5,78.3C758.8,75.4 744.5,164.6 733.8,197Z"/>
<path fill="#ff7f00" d="M805.1,212.6C815.8,231.1 830.1,201.2 840.8,201.5C851.4,201.8 865.7,209.9 876.4,214.4C887.1,218.9 901.4,218.1 912,231.5C922.7,244.9 937,286.9 947.7,303.5C958.4,320.1 972.6,331.6 983.3,342.2C994,352.8 1008.3,371.9 1019,374C1029.7,376.1 1043.9,353.4 1054.6,356L1054.6,356C1043.9,353.4 1029.7,374 1019,374C1008.3,374 994,364.1 983.3,356.1C972.6,348.2 958.4,336.3 947.7,321C937,305.7 922.7,267.5 912,254C901.4,240.5 887.1,239.1 876.4,231.2C865.7,223.3 851.4,204.3 840.8,201.5C830.1,198.7 815.8,231.1 805.1,212.6Z"/>
<path fill="#cab2d6" d="M555.6,232.2C566.3,225.7 580.5,240 591.2,251.8C601.9,263.6 616.2,313.9 626.9,311.1C637.6,308.3 651.8,235.4 662.5,232.9C673.2,230.4 687.5,299.6 698.2,294.2C708.9,288.8 723.1,229.4 733.8,197C744.5,164.6 758.8,76.9 769.5,78.3C780.2,79.7 794.4,188 805.1,206.5C815.8,225 830.1,200.3 840.8,201.5C851.4,202.7 865.7,209.9 876.4,214.4C887.1,218.9 901.4,218.7 912,231.5C922.7,244.3 937,285 947.7,299.6C958.4,314.2 972.6,319.4 983.3,329.1C994,338.8 1008.3,360.5 1019,364.5C1029.7,368.5 1043.9,352.6 1054.6,356C1065.3,359.4 1079.6,382.5 1090.3,387.1C1101,391.7 1115.2,383.2 1125.9,386.5C1136.6,389.8 1150.9,405.6 1161.6,409C1172.3,412.4 1186.5,409 1197.2,409L1197.2,409C1186.5,409 1172.3,411 1161.6,409C1150.9,407 1136.6,398.2 1125.9,395.5C1115.2,392.8 1101,396.9 1090.3,391C1079.6,385.1 1065.3,358.6 1054.6,356C1043.9,353.4 1029.7,376.1 1019,374C1008.3,371.9 994,352.8 983.3,342.2C972.6,331.6 958.4,320.1 947.7,303.5C937,286.9 922.7,244.9 912,231.5C901.4,218.1 887.1,218.9 876.4,214.4C865.7,209.9 851.4,201.8 840.8,201.5C830.1,201.2 815.8,231.1 805.1,212.6C794.4,194.1 780.2,80.6 769.5,78.3C758.8,76 744.5,164.6 733.8,197C723.1,229.4 708.9,288.2 698.2,294.2C687.5,300.2 673.2,233.4 662.5,236.8C651.8,240.2 637.6,314.4 626.9,316.7C616.2,318.9 601.9,264.5 591.2,251.8C580.5,239.1 566.3,225.7 555.6,232.2Z"/>
<path fill="#6a3d9a" d="M805.1,206.5C815.8,225 830.1,200.9 840.8,201.5C851.4,202.1 865.7,205.9 876.4,210.4C887.1,214.9 901.4,218.1 912,231.5C922.7,244.9 937,285 947.7,299.6C958.4,314.2 972.6,320 983.3,329.1C994,338.2 1008.3,357.9 1019,360C1029.7,362.1 1043.9,339.3 1054.6,342.9C1065.3,346.5 1079.6,377.2 1090.3,383.7C1101,390.2 1115.2,382.7 1125.9,386.5C1136.6,390.3 1150.9,405.6 1161.6,409L1161.6,409C1150.9,405.6 1136.6,389.8 1125.9,386.5C1115.2,383.2 1101,391.7 1090.3,387.1C1079.6,382.5 1065.3,359.4 1054.6,356C1043.9,352.6 1029.7,368.5 1019,364.5C1008.3,360.5 994,338.8 983.3,329.1C972.6,319.4 958.4,314.2 947.7,299.6C937,285 922.7,244.3 912,231.5C901.4,218.7 887.1,218.9 876.4,214.4C865.7,209.9 851.4,202.7 840.8,201.5C830.1,200.3 815.8,225 805.1,206.5Z"/>
<path fill="#ffff99" d="M733.8,197C744.5,164.6 758.8,77.7 769.5,78.3C780.2,78.9 794.4,182.5 805.1,201C815.8,219.5 830.1,200.1 840.8,201.5C851.4,202.9 865.7,205.9 876.4,210.4L876.4,210.4C865.7,205.9 851.4,202.1 840.8,201.5C830.1,200.9 815.8,225 805.1,206.5C794.4,188 780.2,79.7 769.5,78.3C758.8,76.9 744.5,164.6 733.8,197ZM983.3,329.1C994,338.2 1008.3,359.3 1019,360C1029.7,360.7 1043.9,330.9 1054.6,333.9C1065.3,336.9 1079.6,372.4 1090.3,380.3C1101,388.2 1115.2,382.2 1125.9,386.5C1136.6,390.8 1150.9,405.6 1161.6,409L1161.6,409C1150.9,405.6 1136.6,390.3 1125.9,386.5C1115.2,382.7 1101,390.2 1090.3,383.7C1079.6,377.2 1065.3,346.5 1054.6,342.9C1043.9,339.3 1029.7,362.1 1019,360C1008.3,357.9 994,338.2 983.3,329.1Z"/>
<path fill="#b15928" d="M912,231.5C922.7,244.9 937,285.6 947.7,299.6C958.4,313.6 972.6,315.6 983.3,324.7C994,333.8 1008.3,360 1019,360C1029.7,360 1043.9,321.8 1054.6,324.8C1065.3,327.8 1079.6,371.7 1090.3,379.7C1101,387.7 1115.2,373.6 1125.9,378C1136.6,382.4 1150.9,404.4 1161.6,409C1172.3,413.6 1186.5,409 1197.2,409L1197.2,409C1186.5,409 1172.3,412.4 1161.6,409C1150.9,405.6 1136.6,390.8 1125.9,386.5C1115.2,382.2 1101,388.2 1090.3,380.3C1079.6,372.4 1065.3,336.9 1054.6,333.9C1043.9,330.9 1029.7,360.7 1019,360C1008.3,359.3 994,338.2 983.3,329.1C972.6,320 958.4,314.2 947.7,299.6C937,285 922.7,244.9 912,231.5Z"/>
<path fill="#a6cee3" d="M769.5,78.3C780.2,78.9 794.4,183.2 805.1,201C815.8,218.8 830.1,195.5 840.8,196.9C851.4,198.3 865.7,205.2 876.4,210.4C887.1,215.6 901.4,218.1 912,231.5L912,231.5C901.4,218.1 887.1,214.9 876.4,210.4C865.7,205.9 851.4,202.9 840.8,201.5C830.1,200.1 815.8,219.5 805.1,201C794.4,182.5 780.2,78.9 769.5,78.3Z"/>
<path fill="#1f78b4" d="M662.5,232.9C673.2,230.4 687.5,299.9 698.2,294.2C708.9,288.5 723.1,228.3 733.8,195.2C744.5,162.1 758.8,72.7 769.5,73.6C780.2,74.5 794.4,182.5 805.1,201C815.8,219.5 830.1,195.5 840.8,196.9L840.8,196.9C830.1,195.5 815.8,218.8 805.1,201C794.4,183.2 780.2,78.9 769.5,78.3C758.8,77.7 744.5,164.6 733.8,197C723.1,229.4 708.9,288.8 698.2,294.2C687.5,299.6 673.2,230.4 662.5,232.9Z"/>
<path fill="#33a02c" d="M591.2,251.8C601.9,263.6 616.2,314.6 626.9,311.1C637.6,307.6 651.8,230.8 662.5,228.3C673.2,225.8 687.5,299.2 698.2,294.2C708.9,289.2 723.1,228.3 733.8,195.2L733.8,195.2C723.1,228.3 708.9,288.5 698.2,294.2C687.5,299.9 673.2,230.4 662.5,232.9C651.8,235.4 637.6,308.3 626.9,311.1C616.2,313.9 601.9,263.6 591.2,251.8Z"/>
<path fill="#e31a1c" d="M1125.9,378C1136.6,382.4 1150.9,404.4 1161.6,409C1172.3,413.6 1186.5,409.2 1197.2,408.6C1207.9,408 1222.2,404.7 1232.9,404.8C1237.6,404.8 1249.5,406.2 1268.5,409L1268.5,409C1249.5,409 1237.6,409 1232.9,409C1222.2,409 1207.9,409 1197.2,409C1186.5,409 1172.3,413.6 1161.6,409C1150.9,404.4 1136.6,382.4 1125.9,378Z"/>
<path fill="#1f78b4" d="M1125.9,378C1136.6,382.4 1150.9,405.1 1161.6,409C1172.3,412.9 1186.5,405 1197.2,404.3C1207.9,403.6 1222.2,403.9 1232.9,404.6C1237.6,404.9 1249.5,406.4 1268.5,409L1268.5,409C1249.5,406.2 1237.6,404.8 1232.9,404.8C1222.2,404.7 1207.9,408 1197.2,408.6C1186.5,409.2 1172.3,413.6 1161.6,409C1150.9,404.4 1136.6,382.4 1125.9,378Z"/>
<path fill="#b2df8a" d="M555.6,232.2C566.3,225.7 580.5,240.5 591.2,251.8C601.9,263.1 616.2,311.9 626.9,307.7C637.6,303.5 651.8,225.8 662.5,223.8C673.2,221.8 687.5,298.5 698.2,294.2C708.9,289.9 723.1,228.3 733.8,195.2L733.8,195.2C723.1,228.3 708.9,289.2 698.2,294.2C687.5,299.2 673.2,225.8 662.5,228.3C651.8,230.8 637.6,307.6 626.9,311.1C616.2,314.6 601.9,263.6 591.2,251.8C580.5,240 566.3,225.7 555.6,232.2Z"/>
<path fill="#cab2d6" d="M1125.9,378C1136.6,382.4 1150.9,405.7 1161.6,409C1172.3,412.3 1186.5,401 1197.2,400.3C1207.9,399.6 1222.2,403.3 1232.9,404.6C1237.6,405.2 1249.5,406.6 1268.5,409L1268.5,409C1249.5,406.4 1237.6,404.9 1232.9,404.6C1222.2,403.9 1207.9,403.6 1197.2,404.3C1186.5,405 1172.3,412.9 1161.6,409C1150.9,405.1 1136.6,382.4 1125.9,378Z"/>
<path fill="#6a3d9a" d="M1125.9,378C1136.6,382.4 1150.9,405.8 1161.6,409C1172.3,412.2 1186.5,400.7 1197.2,399.4C1207.9,398.1 1222.2,398.8 1232.9,400.2C1237.6,400.8 1249.5,403.8 1268.5,409L1268.5,409C1249.5,406.6 1237.6,405.2 1232.9,404.6C1222.2,403.3 1207.9,399.6 1197.2,400.3C1186.5,401 1172.3,412.3 1161.6,409C1150.9,405.7 1136.6,382.4 1125.9,378Z"/>
<path fill="#ffff99" d="M1197.2,399.4C1207.9,398.1 1222.2,399.5 1232.9,400.2C1237.6,400.5 1249.5,401.8 1268.5,404.1L1268.5,409C1249.5,403.8 1237.6,400.8 1232.9,400.2C1222.2,398.8 1207.9,398.1 1197.2,399.4Z"/>
</g>
<g class="axis"><path d="M164,416.1 V409.5 H1270"/><line x1="231.9" x2="231.9" y1="409.5" y2="416.1"/><text x="231.9" y="429">1,040</text><line x1="303.2" x2="303.2" y1="409.5" y2="416.1"/><text x="303.2" y="429">1,060</text><line x1="374.5" x2="374.5" y1="409.5" y2="416.1"/><text x="374.5" y="429">1,080</text><line x1="445.8" x2="445.8" y1="409.5" y2="416.1"/><text x="445.8" y="429">1,100</text><line x1="517.1" x2="517.1" y1="409.5" y2="416.1"/><text x="517.1" y="429">1,120</text><line x1="588.4" x2="588.4" y1="409.5" y2="416.1"/><text x="588.4" y="429">1,140</text><line x1="659.6" x2="659.6" y1="409.5" y2="416.1"/><text x="659.6" y="429">1,160</text><line x1="730.9" x2="730.9" y1="409.5" y2="416.1"/><text x="730.9" y="429">1,180</text><line x1="802.2" x2="802.2" y1="409.5" y2="416.1"/><text x="802.2" y="429">1,200</text><line x1="873.5" x2="873.5" y1="409.5" y2="416.1"/><text x="873.5" y="429">1,220</text><line x1="944.8" x2="944.8" y1="409.5" y2="416.1"/><text x="944.8" y="429">1,240</text><line x1="1016.1" x2="1016.1" y1="409.5" y2="416.1"/><text x="1016.1" y="429">1,260</text><line x1="1087.4" x2="1087.4" y1="409.5" y2="416.1"/><text x="1087.4" y="429">1,280</text><line x1="1158.7" x2="1158.7" y1="409.5" y2="416.1"/><text x="1158.7" y="429">1,300</text><line x1="1230" x2="1230" y1="409.5" y2="416.1"/><text x="1230" y="429">1,320</text></g>
<g class="ctx" opacity="0.85">
<path fill="#a6cee3" d="M163.5,496C182.5,496.1 194.4,496.1 199.1,496C209.8,495.9 224.1,495.5 234.8,495.2C245.5,494.9 259.7,494.2 270.4,494.1C281.1,494 295.4,495.1 306.1,494.7C316.8,494.2 331,492.1 341.7,491.2C352.4,490.3 366.7,488.6 377.4,488.9C388.1,489.2 402.3,492.3 413,493.1C423.7,494 438,494.6 448.7,494.7C459.4,494.8 473.6,494.1 484.3,494C495,493.9 509.3,493.7 520,494C530.6,494.3 544.9,495.6 555.6,495.9C566.3,496.2 580.5,496 591.2,496C601.9,496 616.2,496 626.9,496L626.9,496C616.2,496 601.9,496 591.2,496C580.5,496 566.3,496 555.6,496C544.9,496 530.6,496 520,496C509.3,496 495,496 484.3,496C473.6,496 459.4,496 448.7,496C438,496 423.7,496 413,496C402.3,496 388.1,496 377.4,496C366.7,496 352.4,496 341.7,496C331,496 316.8,496 306.1,496C295.4,496 281.1,496 270.4,496C259.7,496 245.5,496 234.8,496C224.1,496 209.8,496 199.1,496C194.4,496 182.5,496 163.5,496ZM662.5,496C673.2,496 687.5,496.1 698.2,496C708.9,495.9 723.1,495.6 733.8,495.6C744.5,495.6 758.8,495.8 769.5,495.8C780.2,495.7 794.4,495.4 805.1,495.3C815.8,495.2 830.1,495.3 840.8,495.3C851.4,495.4 865.7,495.3 876.4,495.3C887.1,495.4 901.4,495.4 912,495.5C922.7,495.6 937,495.8 947.7,495.9C958.4,495.9 972.6,496 983.3,496C994,496 1008.3,495.9 1019,495.9C1029.7,495.9 1043.9,496 1054.6,496C1065.3,496 1079.6,496 1090.3,496L1090.3,496C1079.6,496 1065.3,496 1054.6,496C1043.9,496 1029.7,496 1019,496C1008.3,496 994,496 983.3,496C972.6,496 958.4,496 947.7,496C937,496 922.7,496 912,496C901.4,496 887.1,496 876.4,496C865.7,496 851.4,496 840.8,496C830.1,496 815.8,496 805.1,496C794.4,496 780.2,496 769.5,496C758.8,496 744.5,496 733.8,496C723.1,496 708.9,496 698.2,496C687.5,496 673.2,496 662.5,496Z"/>
<path fill="#1f78b4" d="M163.5,496C182.5,496.1 194.4,496.1 199.1,496C209.8,495.8 224.1,495 234.8,494.6C245.5,494.3 259.7,494 270.4,493.6C281.1,493.2 295.4,492.9 306.1,492.2C316.8,491.4 331,489.5 341.7,488.8C352.4,488.1 366.7,487.2 377.4,487.4C388.1,487.7 402.3,489.7 413,490.5C423.7,491.3 438,492.5 448.7,492.9C459.4,493.2 473.6,492.6 484.3,492.7C495,492.9 509.3,493.6 520,494C530.6,494.4 544.9,495 555.6,495.3C566.3,495.5 580.5,495.6 591.2,495.7C601.9,495.8 616.2,496 626.9,496C637.6,496 651.8,495.5 662.5,495.5C673.2,495.5 687.5,496.1 698.2,496C708.9,495.9 723.1,494.9 733.8,494.9C744.5,494.9 758.8,495.8 769.5,495.8C780.2,495.8 794.4,494.9 805.1,494.8C815.8,494.8 830.1,495.3 840.8,495.3C851.4,495.4 865.7,495.3 876.4,495.3L876.4,495.3C865.7,495.3 851.4,495.4 840.8,495.3C830.1,495.3 815.8,495.2 805.1,495.3C794.4,495.4 780.2,495.7 769.5,495.8C758.8,495.8 744.5,495.6 733.8,495.6C723.1,495.6 708.9,495.9 698.2,496C687.5,496.1 673.2,496 662.5,496C651.8,496 637.6,496 626.9,496C616.2,496 601.9,496 591.2,496C580.5,496 566.3,496.2 555.6,495.9C544.9,495.6 530.6,494.3 520,494C509.3,493.7 495,493.9 484.3,494C473.6,494.1 459.4,494.8 448.7,494.7C438,494.6 423.7,494 413,493.1C402.3,492.3 388.1,489.2 377.4,488.9C366.7,488.6 352.4,490.3 341.7,491.2C331,492.1 316.8,494.2 306.1,494.7C295.4,495.1 281.1,494 270.4,494.1C259.7,494.2 245.5,494.9 234.8,495.2C224.1,495.5 209.8,495.9 199.1,496C194.4,496.1 182.5,496.1 163.5,496Z"/>
<path fill="#b2df8a" d="M163.5,496C182.5,496.2 194.4,496.2 199.1,496C209.8,495.6 224.1,493.9 234.8,493.3C245.5,492.6 259.7,492.2 270.4,491.6C281.1,491.1 295.4,489.9 306.1,489.4C316.8,488.9 331,488.9 341.7,488.4C352.4,487.9 366.7,486.2 377.4,486.2C388.1,486.2 402.3,487.9 413,488.6C423.7,489.4 438,491.1 448.7,491.3C459.4,491.5 473.6,489.7 484.3,490.1C495,490.4 509.3,492.9 520,493.6C530.6,494.2 544.9,494.3 555.6,494.6C566.3,494.9 580.5,495.2 591.2,495.4C601.9,495.6 616.2,496 626.9,496C637.6,496 651.8,495.5 662.5,495.5L662.5,495.5C651.8,495.5 637.6,496 626.9,496C616.2,496 601.9,495.8 591.2,495.7C580.5,495.6 566.3,495.5 555.6,495.3C544.9,495 530.6,494.4 520,494C509.3,493.6 495,492.9 484.3,492.7C473.6,492.6 459.4,493.2 448.7,492.9C438,492.5 423.7,491.3 413,490.5C402.3,489.7 388.1,487.7 377.4,487.4C366.7,487.2 352.4,488.1 341.7,488.8C331,489.5 316.8,491.4 306.1,492.2C295.4,492.9 281.1,493.2 270.4,493.6C259.7,494 245.5,494.3 234.8,494.6C224.1,495 209.8,495.8 199.1,496C194.4,496.1 182.5,496.1 163.5,496ZM698.2,496C708.9,495.9 723.1,495 733.8,494.9C744.5,494.7 758.8,494.9 769.5,494.9C780.2,494.9 794.4,494.8 805.1,494.8C815.8,494.9 830.1,495.3 840.8,495.3L840.8,495.3C830.1,495.3 815.8,494.8 805.1,494.8C794.4,494.9 780.2,495.8 769.5,495.8C758.8,495.8 744.5,494.9 733.8,494.9C723.1,494.9 708.9,495.9 698.2,496Z"/>
<path fill="#33a02c" d="M163.5,496C182.5,496.2 194.4,496.2 199.1,496C209.8,495.5 224.1,493.6 234.8,492.9C245.5,492.2 259.7,492.1 270.4,491.4C281.1,490.7 295.4,488.7 306.1,488.1C316.8,487.5 331,487.9 341.7,487.4C352.4,486.9 366.7,484.8 377.4,484.9C388.1,485.1 402.3,487.5 413,488.4C423.7,489.2 438,490.5 448.7,490.6C459.4,490.8 473.6,488.9 484.3,489.4C495,489.8 509.3,492.8 520,493.6C530.6,494.3 544.9,494.3 555.6,494.6L555.6,494.6C544.9,494.3 530.6,494.2 520,493.6C509.3,492.9 495,490.4 484.3,490.1C473.6,489.7 459.4,491.5 448.7,491.3C438,491.1 423.7,489.4 413,488.6C402.3,487.9 388.1,486.2 377.4,486.2C366.7,486.2 352.4,487.9 341.7,488.4C331,488.9 316.8,488.9 306.1,489.4C295.4,489.9 281.1,491.1 270.4,491.6C259.7,492.2 245.5,492.6 234.8,493.3C224.1,493.9 209.8,495.6 199.1,496C194.4,496.2 182.5,496.2 163.5,496Z"/>
<path fill="#fb9a99" d="M234.8,492.9C245.5,492.2 259.7,492.1 270.4,491.4C281.1,490.7 295.4,489 306.1,488C316.8,487 331,485.2 341.7,484.6C352.4,484 366.7,484.1 377.4,484C388.1,483.9 402.3,483.3 413,484.2C423.7,485.1 438,489.7 448.7,490.1C459.4,490.5 473.6,486.5 484.3,487C495,487.4 509.3,492.2 520,493.2C530.6,494.2 544.9,493.4 555.6,493.7C566.3,493.9 580.5,494.5 591.2,494.8C601.9,495.2 616.2,495.9 626.9,496C637.6,496.1 651.8,495.5 662.5,495.5C673.2,495.5 687.5,496.3 698.2,496C708.9,495.7 723.1,493.8 733.8,493.4C744.5,493 758.8,493.3 769.5,493.5C780.2,493.7 794.4,494.6 805.1,494.8C815.8,495.1 830.1,495.3 840.8,495.3L840.8,495.3C830.1,495.3 815.8,494.9 805.1,494.8C794.4,494.8 780.2,494.9 769.5,494.9C758.8,494.9 744.5,494.7 733.8,494.9C723.1,495 708.9,495.9 698.2,496C687.5,496.1 673.2,495.5 662.5,495.5C651.8,495.5 637.6,496 626.9,496C616.2,496 601.9,495.6 591.2,495.4C580.5,495.2 566.3,494.9 555.6,494.6C544.9,494.3 530.6,494.3 520,493.6C509.3,492.8 495,489.8 484.3,489.4C473.6,488.9 459.4,490.8 448.7,490.6C438,490.5 423.7,489.2 413,488.4C402.3,487.5 388.1,485.1 377.4,484.9C366.7,484.8 352.4,486.9 341.7,487.4C331,487.9 316.8,487.5 306.1,488.1C295.4,488.7 281.1,490.7 270.4,491.4C259.7,492.1 245.5,492.2 234.8,492.9Z"/>
<path fill="#e31a1c" d="M341.7,484.6C352.4,484 366.7,484.2 377.4,484C388.1,483.8 402.3,482.1 413,483C423.7,483.9 438,489.7 448.7,490C459.4,490.3 473.6,484.5 484.3,485C495,485.4 509.3,491.8 520,493.1C530.6,494.4 544.9,493.5 555.6,493.7C566.3,493.8 580.5,493.9 591.2,494.3C601.9,494.6 616.2,495.9 626.9,496C637.6,496.1 651.8,494.8 662.5,494.8C673.2,494.8 687.5,496.2 698.2,496C708.9,495.8 723.1,493.8 733.8,493.4L733.8,493.4C723.1,493.8 708.9,495.7 698.2,496C687.5,496.3 673.2,495.5 662.5,495.5C651.8,495.5 637.6,496.1 626.9,496C616.2,495.9 601.9,495.2 591.2,494.8C580.5,494.5 566.3,493.9 555.6,493.7C544.9,493.4 530.6,494.2 520,493.2C509.3,492.2 495,487.4 484.3,487C473.6,486.5 459.4,490.5 448.7,490.1C438,489.7 423.7,485.1 413,484.2C402.3,483.3 388.1,483.9 377.4,484C366.7,484.1 352.4,484 341.7,484.6Z"/>
<path fill="#fdbf6f" d="M306.1,488C316.8,487 331,485.5 341.7,484.6C352.4,483.7 366.7,482.7 377.4,482.1C388.1,481.5 402.3,479.6 413,480.6C423.7,481.7 438,489 448.7,489.3C459.4,489.7 473.6,482.3 484.3,482.9C495,483.4 509.3,491.5 520,493C530.6,494.5 544.9,492.7 555.6,492.9C566.3,493.1 580.5,493.8 591.2,494.3C601.9,494.8 616.2,495.9 626.9,496L626.9,496C616.2,495.9 601.9,494.6 591.2,494.3C580.5,493.9 566.3,493.8 555.6,493.7C544.9,493.5 530.6,494.4 520,493.1C509.3,491.8 495,485.4 484.3,485C473.6,484.5 459.4,490.3 448.7,490C438,489.7 423.7,483.9 413,483C402.3,482.1 388.1,483.8 377.4,484C366.7,484.2 352.4,484 341.7,484.6C331,485.2 316.8,487 306.1,488Z"/>
<path fill="#ff7f00" d="M306.1,488C316.8,487 331,485.8 341.7,484.6C352.4,483.5 366.7,481.1 377.4,480.3C388.1,479.4 402.3,478 413,479.2C423.7,480.3 438,488 448.7,488C459.4,488.1 473.6,479.5 484.3,479.7C495,479.9 509.3,487.8 520,489.6C530.6,491.3 544.9,491.1 555.6,491.6C566.3,492.2 580.5,492.6 591.2,493.3C601.9,493.9 616.2,495.9 626.9,496C637.6,496.1 651.8,494.1 662.5,494.1C673.2,494.1 687.5,496.2 698.2,496C708.9,495.8 723.1,493.1 733.8,492.5C744.5,491.9 758.8,491.9 769.5,492.2C780.2,492.4 794.4,493.6 805.1,494.1C815.8,494.6 830.1,495.2 840.8,495.3C851.4,495.5 865.7,495.3 876.4,495.3L876.4,495.3C865.7,495.3 851.4,495.4 840.8,495.3C830.1,495.3 815.8,495.1 805.1,494.8C794.4,494.6 780.2,493.7 769.5,493.5C758.8,493.3 744.5,493 733.8,493.4C723.1,493.8 708.9,495.8 698.2,496C687.5,496.2 673.2,494.8 662.5,494.8C651.8,494.8 637.6,496.1 626.9,496C616.2,495.9 601.9,494.8 591.2,494.3C580.5,493.8 566.3,493.1 555.6,492.9C544.9,492.7 530.6,494.5 520,493C509.3,491.5 495,483.4 484.3,482.9C473.6,482.3 459.4,489.7 448.7,489.3C438,489 423.7,481.7 413,480.6C402.3,479.6 388.1,481.5 377.4,482.1C366.7,482.7 352.4,483.7 341.7,484.6C331,485.5 316.8,487 306.1,488Z"/>
<path fill="#cab2d6" d="M306.1,488C316.8,487 331,486 341.7,484.6C352.4,483.2 366.7,479.7 377.4,478.7C388.1,477.8 402.3,477.1 413,478.4C423.7,479.8 438,488 448.7,488C459.4,488 473.6,478.2 484.3,478.4C495,478.7 509.3,487.6 520,489.6C530.6,491.5 544.9,491.1 555.6,491.6L555.6,491.6C544.9,491.1 530.6,491.3 520,489.6C509.3,487.8 495,479.9 484.3,479.7C473.6,479.5 459.4,488.1 448.7,488C438,488 423.7,480.3 413,479.2C402.3,478 388.1,479.4 377.4,480.3C366.7,481.1 352.4,483.5 341.7,484.6C331,485.8 316.8,487 306.1,488Z"/>
<path fill="#6a3d9a" d="M413,478.4C423.7,479.8 438,488.2 448.7,488C459.4,487.8 473.6,476.8 484.3,477.1C495,477.3 509.3,487.5 520,489.6C530.6,491.6 544.9,490.6 555.6,490.9C566.3,491.2 580.5,490.8 591.2,491.5C601.9,492.1 616.2,495.6 626.9,495.5C637.6,495.4 651.8,490.7 662.5,490.8C673.2,490.9 687.5,495.9 698.2,496C708.9,496.1 723.1,492 733.8,491.3C744.5,490.7 758.8,491.2 769.5,491.6C780.2,492.1 794.4,493.7 805.1,494.1C815.8,494.5 830.1,493.9 840.8,494.1C851.4,494.3 865.7,495.1 876.4,495.3C887.1,495.6 901.4,495.4 912,495.5L912,495.5C901.4,495.4 887.1,495.4 876.4,495.3C865.7,495.3 851.4,495.5 840.8,495.3C830.1,495.2 815.8,494.6 805.1,494.1C794.4,493.6 780.2,492.4 769.5,492.2C758.8,491.9 744.5,491.9 733.8,492.5C723.1,493.1 708.9,495.8 698.2,496C687.5,496.2 673.2,494.1 662.5,494.1C651.8,494.1 637.6,496.1 626.9,496C616.2,495.9 601.9,493.9 591.2,493.3C580.5,492.6 566.3,492.2 555.6,491.6C544.9,491.1 530.6,491.5 520,489.6C509.3,487.6 495,478.7 484.3,478.4C473.6,478.2 459.4,488 448.7,488C438,488 423.7,479.8 413,478.4Z"/>
<path fill="#ffff99" d="M448.7,488C459.4,487.8 473.6,477.1 484.3,477.1C495,477 509.3,485.7 520,487.6C530.6,489.5 544.9,489.4 555.6,489.8C566.3,490.2 580.5,489.3 591.2,490.1C601.9,490.9 616.2,495.2 626.9,495.3C637.6,495.4 651.8,490.7 662.5,490.8C673.2,490.9 687.5,495.9 698.2,496L698.2,496C687.5,495.9 673.2,490.9 662.5,490.8C651.8,490.7 637.6,495.4 626.9,495.5C616.2,495.6 601.9,492.1 591.2,491.5C580.5,490.8 566.3,491.2 555.6,490.9C544.9,490.6 530.6,491.6 520,489.6C509.3,487.5 495,477.3 484.3,477.1C473.6,476.8 459.4,487.8 448.7,488Z"/>
<path fill="#b15928" d="M306.1,488C316.8,487 331,486.2 341.7,484.6C352.4,483 366.7,478.4 377.4,477.5C388.1,476.5 402.3,476.7 413,478.3C423.7,479.9 438,488.4 448.7,488C459.4,487.6 473.6,476.1 484.3,475.6C495,475.2 509.3,483 520,485C530.6,486.9 544.9,488 555.6,488.6C566.3,489.3 580.5,488.4 591.2,489.3C601.9,490.3 616.2,494.6 626.9,494.8C637.6,495 651.8,490.6 662.5,490.8C673.2,491 687.5,496 698.2,496C708.9,496 723.1,491.5 733.8,490.8C744.5,490.1 758.8,491.2 769.5,491.6C780.2,492.1 794.4,493.7 805.1,494.1L805.1,494.1C794.4,493.7 780.2,492.1 769.5,491.6C758.8,491.2 744.5,490.7 733.8,491.3C723.1,492 708.9,496.1 698.2,496C687.5,495.9 673.2,490.9 662.5,490.8C651.8,490.7 637.6,495.4 626.9,495.3C616.2,495.2 601.9,490.9 591.2,490.1C580.5,489.3 566.3,490.2 555.6,489.8C544.9,489.4 530.6,489.5 520,487.6C509.3,485.7 495,477 484.3,477.1C473.6,477.1 459.4,487.8 448.7,488C438,488.2 423.7,479.8 413,478.4C402.3,477.1 388.1,477.8 377.4,478.7C366.7,479.7 352.4,483.2 341.7,484.6C331,486 316.8,487 306.1,488Z"/>
<path fill="#a6cee3" d="M306.1,488C316.8,487 331,486.3 341.7,484.6C352.4,482.9 366.7,477.8 377.4,476.8C388.1,475.9 402.3,476.7 413,478.3C423.7,479.9 438,488.1 448.7,487.5C459.4,486.9 473.6,474.8 484.3,474.3C495,473.8 509.3,482.3 520,484.3C530.6,486.3 544.9,486.7 555.6,487.4C566.3,488.1 580.5,488 591.2,489.1C601.9,490.1 616.2,494.1 626.9,494.4C637.6,494.6 651.8,490.4 662.5,490.6C673.2,490.9 687.5,496 698.2,496C708.9,496 723.1,491.5 733.8,490.8L733.8,490.8C723.1,491.5 708.9,496 698.2,496C687.5,496 673.2,491 662.5,490.8C651.8,490.6 637.6,495 626.9,494.8C616.2,494.6 601.9,490.3 591.2,489.3C580.5,488.4 566.3,489.3 555.6,488.6C544.9,488 530.6,486.9 520,485C509.3,483 495,475.2 484.3,475.6C473.6,476.1 459.4,487.6 448.7,488C438,488.4 423.7,479.9 413,478.3C402.3,476.7 388.1,476.5 377.4,477.5C366.7,478.4 352.4,483 341.7,484.6C331,486.2 316.8,487 306.1,488ZM983.3,496C994,496 1008.3,495.9 1019,495.9C1029.7,495.8 1043.9,495.6 1054.6,495.5C1065.3,495.4 1079.6,495.2 1090.3,495.3C1101,495.3 1115.2,495.9 1125.9,496C1136.6,496.1 1150.9,496 1161.6,496L1161.6,496C1150.9,496 1136.6,496 1125.9,496C1115.2,496 1101,496 1090.3,496C1079.6,496 1065.3,496 1054.6,496C1043.9,496 1029.7,495.9 1019,495.9C1008.3,495.9 994,496 983.3,496Z"/>
<path fill="#1f78b4" d="M163.5,494.8C182.5,495.7 194.4,496.1 199.1,496C209.8,495.7 224.1,493.6 234.8,492.9L234.8,492.9C224.1,493.6 209.8,495.5 199.1,496C194.4,496.2 182.5,496.2 163.5,496ZM413,478.3C423.7,479.9 438,488.4 448.7,487.5C459.4,486.6 473.6,472.8 484.3,472.4C495,471.9 509.3,482.4 520,484.3C530.6,486.2 544.9,484.5 555.6,484.9C566.3,485.3 580.5,485.7 591.2,486.7C601.9,487.7 616.2,491.1 626.9,491.5C637.6,491.9 651.8,488.7 662.5,489.4C673.2,490.1 687.5,496 698.2,496C708.9,496 723.1,490.2 733.8,489.2C744.5,488.3 758.8,489 769.5,489.7C780.2,490.5 794.4,493.6 805.1,494.1C815.8,494.5 830.1,492.6 840.8,492.7C851.4,492.9 865.7,495.1 876.4,495.3C887.1,495.6 901.4,494.6 912,494.4C922.7,494.2 937,493.9 947.7,494.2C958.4,494.4 972.6,495.7 983.3,496C994,496.3 1008.3,495.9 1019,495.9L1019,495.9C1008.3,495.9 994,496 983.3,496C972.6,496 958.4,495.9 947.7,495.9C937,495.8 922.7,495.6 912,495.5C901.4,495.4 887.1,495.6 876.4,495.3C865.7,495.1 851.4,494.3 840.8,494.1C830.1,493.9 815.8,494.5 805.1,494.1C794.4,493.7 780.2,492.1 769.5,491.6C758.8,491.2 744.5,490.1 733.8,490.8C723.1,491.5 708.9,496 698.2,496C687.5,496 673.2,490.9 662.5,490.6C651.8,490.4 637.6,494.6 626.9,494.4C616.2,494.1 601.9,490.1 591.2,489.1C580.5,488 566.3,488.1 555.6,487.4C544.9,486.7 530.6,486.3 520,484.3C509.3,482.3 495,473.8 484.3,474.3C473.6,474.8 459.4,486.9 448.7,487.5C438,488.1 423.7,479.9 413,478.3Z"/>
<path fill="#b2df8a" d="M413,478.3C423.7,479.9 438,488.6 448.7,487.5C459.4,486.4 473.6,471.6 484.3,471C495,470.4 509.3,481.7 520,483.6C530.6,485.5 544.9,483.5 555.6,483.7C566.3,484 580.5,484.1 591.2,485.3C601.9,486.5 616.2,490.9 626.9,491.5C637.6,492.1 651.8,488.7 662.5,489.4C673.2,490.1 687.5,496.1 698.2,496C708.9,495.9 723.1,489.8 733.8,488.8C744.5,487.8 758.8,488.5 769.5,489.3C780.2,490.1 794.4,493.6 805.1,494.1C815.8,494.6 830.1,492.6 840.8,492.7L840.8,492.7C830.1,492.6 815.8,494.5 805.1,494.1C794.4,493.6 780.2,490.5 769.5,489.7C758.8,489 744.5,488.3 733.8,489.2C723.1,490.2 708.9,496 698.2,496C687.5,496 673.2,490.1 662.5,489.4C651.8,488.7 637.6,491.9 626.9,491.5C616.2,491.1 601.9,487.7 591.2,486.7C580.5,485.7 566.3,485.3 555.6,484.9C544.9,484.5 530.6,486.2 520,484.3C509.3,482.4 495,471.9 484.3,472.4C473.6,472.8 459.4,486.6 448.7,487.5C438,488.4 423.7,479.9 413,478.3Z"/>
<path fill="#33a02c" d="M448.7,487.5C459.4,486.4 473.6,471.8 484.3,471C495,470.3 509.3,480.8 520,482.5C530.6,484.2 544.9,482.2 555.6,482.4C566.3,482.5 580.5,482.4 591.2,483.4C601.9,484.3 616.2,488.5 626.9,488.7C637.6,488.9 651.8,484 662.5,484.8C673.2,485.6 687.5,493.5 698.2,494.1C708.9,494.7 723.1,489.4 733.8,488.6C744.5,487.9 758.8,488.6 769.5,489.3C780.2,490 794.4,492.9 805.1,493.4C815.8,493.9 830.1,492.5 840.8,492.7C851.4,493 865.7,495.1 876.4,495.3L876.4,495.3C865.7,495.1 851.4,492.9 840.8,492.7C830.1,492.6 815.8,494.6 805.1,494.1C794.4,493.6 780.2,490.1 769.5,489.3C758.8,488.5 744.5,487.8 733.8,488.8C723.1,489.8 708.9,495.9 698.2,496C687.5,496.1 673.2,490.1 662.5,489.4C651.8,488.7 637.6,492.1 626.9,491.5C616.2,490.9 601.9,486.5 591.2,485.3C580.5,484.1 566.3,484 555.6,483.7C544.9,483.5 530.6,485.5 520,483.6C509.3,481.7 495,470.4 484.3,471C473.6,471.6 459.4,486.4 448.7,487.5Z"/>
<path fill="#fb9a99" d="M484.3,471C495,470.3 509.3,480.9 520,482.5C530.6,484.1 544.9,481.6 555.6,481.6C566.3,481.5 580.5,481.2 591.2,482.3C601.9,483.3 616.2,488.6 626.9,488.7C637.6,488.9 651.8,482.6 662.5,483.4C673.2,484.1 687.5,493 698.2,493.8C708.9,494.6 723.1,489.5 733.8,488.6C744.5,487.8 758.8,487.2 769.5,487.9C780.2,488.6 794.4,492.7 805.1,493.4C815.8,494.1 830.1,492.5 840.8,492.7L840.8,492.7C830.1,492.5 815.8,493.9 805.1,493.4C794.4,492.9 780.2,490 769.5,489.3C758.8,488.6 744.5,487.9 733.8,488.6C723.1,489.4 708.9,494.7 698.2,494.1C687.5,493.5 673.2,485.6 662.5,484.8C651.8,484 637.6,488.9 626.9,488.7C616.2,488.5 601.9,484.3 591.2,483.4C580.5,482.4 566.3,482.5 555.6,482.4C544.9,482.2 530.6,484.2 520,482.5C509.3,480.8 495,470.3 484.3,471Z"/>
<path fill="#e31a1c" d="M199.1,496C209.8,495.7 224.1,493.7 234.8,492.9C245.5,492.1 259.7,491.8 270.4,490.7C281.1,489.7 295.4,487 306.1,485.9C316.8,484.9 331,485.2 341.7,483.8C352.4,482.4 366.7,477.7 377.4,476.8C388.1,476 402.3,476.8 413,478.3C423.7,479.8 438,488.1 448.7,486.8C459.4,485.5 473.6,470.5 484.3,469.8C495,469 509.3,480.4 520,481.7C530.6,483.1 544.9,479.2 555.6,479C566.3,478.7 580.5,478.6 591.2,480C601.9,481.3 616.2,488.5 626.9,488.1C637.6,487.6 651.8,476.5 662.5,477C673.2,477.4 687.5,489.7 698.2,491C708.9,492.2 723.1,485.9 733.8,485.2C744.5,484.5 758.8,485.2 769.5,486.3C780.2,487.4 794.4,492 805.1,492.7C815.8,493.3 830.1,490.4 840.8,490.8C851.4,491.2 865.7,494.9 876.4,495.3C887.1,495.8 901.4,494.1 912,493.9C922.7,493.7 937,493.9 947.7,494.2C958.4,494.5 972.6,495.7 983.3,496L983.3,496C972.6,495.7 958.4,494.4 947.7,494.2C937,493.9 922.7,494.2 912,494.4C901.4,494.6 887.1,495.6 876.4,495.3C865.7,495.1 851.4,493 840.8,492.7C830.1,492.5 815.8,494.1 805.1,493.4C794.4,492.7 780.2,488.6 769.5,487.9C758.8,487.2 744.5,487.8 733.8,488.6C723.1,489.5 708.9,494.6 698.2,493.8C687.5,493 673.2,484.1 662.5,483.4C651.8,482.6 637.6,488.9 626.9,488.7C616.2,488.6 601.9,483.3 591.2,482.3C580.5,481.2 566.3,481.5 555.6,481.6C544.9,481.6 530.6,484.1 520,482.5C509.3,480.9 495,470.3 484.3,471C473.6,471.8 459.4,486.4 448.7,487.5C438,488.6 423.7,479.9 413,478.3C402.3,476.7 388.1,475.9 377.4,476.8C366.7,477.8 352.4,482.9 341.7,484.6C331,486.3 316.8,487 306.1,488C295.4,489 281.1,490.7 270.4,491.4C259.7,492.1 245.5,492.2 234.8,492.9C224.1,493.6 209.8,495.7 199.1,496Z"/>
<path fill="#fdbf6f" d="M234.8,492.9C245.5,492.1 259.7,491.9 270.4,490.7C281.1,489.6 295.4,486.5 306.1,485.3C316.8,484.2 331,484.7 341.7,483.3C352.4,481.9 366.7,477.1 377.4,476.2C388.1,475.4 402.3,476.1 413,477.7C423.7,479.2 438,488 448.7,486.8C459.4,485.6 473.6,470.5 484.3,469.8C495,469 509.3,480.4 520,481.7C530.6,483.1 544.9,479.3 555.6,478.8C566.3,478.3 580.5,477.1 591.2,478.4C601.9,479.8 616.2,488.3 626.9,488.1C637.6,487.8 651.8,476.6 662.5,477C673.2,477.3 687.5,489.4 698.2,490.5C708.9,491.6 723.1,485 733.8,484.3C744.5,483.5 758.8,484.2 769.5,485.5C780.2,486.7 794.4,491.9 805.1,492.7C815.8,493.5 830.1,490.4 840.8,490.8L840.8,490.8C830.1,490.4 815.8,493.3 805.1,492.7C794.4,492 780.2,487.4 769.5,486.3C758.8,485.2 744.5,484.5 733.8,485.2C723.1,485.9 708.9,492.2 698.2,491C687.5,489.7 673.2,477.4 662.5,477C651.8,476.5 637.6,487.6 626.9,488.1C616.2,488.5 601.9,481.3 591.2,480C580.5,478.6 566.3,478.7 555.6,479C544.9,479.2 530.6,483.1 520,481.7C509.3,480.4 495,469 484.3,469.8C473.6,470.5 459.4,485.5 448.7,486.8C438,488.1 423.7,479.8 413,478.3C402.3,476.8 388.1,476 377.4,476.8C366.7,477.7 352.4,482.4 341.7,483.8C331,485.2 316.8,484.9 306.1,485.9C295.4,487 281.1,489.7 270.4,490.7C259.7,491.8 245.5,492.1 234.8,492.9Z"/>
<path fill="#ff7f00" d="M555.6,478.8C566.3,478.3 580.5,477.4 591.2,478.4C601.9,479.5 616.2,486.4 626.9,486C637.6,485.6 651.8,475.4 662.5,475.6C673.2,475.9 687.5,486.5 698.2,487.6C708.9,488.8 723.1,483.7 733.8,483.3C744.5,482.9 758.8,483.5 769.5,484.8C780.2,486.1 794.4,491.2 805.1,492.1C815.8,493 830.1,490.4 840.8,490.8C851.4,491.2 865.7,494.5 876.4,494.8C887.1,495.1 901.4,492.9 912,492.8C922.7,492.7 937,493.5 947.7,494C958.4,494.5 972.6,495.7 983.3,496C994,496.3 1008.3,495.9 1019,495.9L1019,495.9C1008.3,495.9 994,496.3 983.3,496C972.6,495.7 958.4,494.5 947.7,494.2C937,493.9 922.7,493.7 912,493.9C901.4,494.1 887.1,495.8 876.4,495.3C865.7,494.9 851.4,491.2 840.8,490.8C830.1,490.4 815.8,493.5 805.1,492.7C794.4,491.9 780.2,486.7 769.5,485.5C758.8,484.2 744.5,483.5 733.8,484.3C723.1,485 708.9,491.6 698.2,490.5C687.5,489.4 673.2,477.3 662.5,477C651.8,476.6 637.6,487.8 626.9,488.1C616.2,488.3 601.9,479.8 591.2,478.4C580.5,477.1 566.3,478.3 555.6,478.8Z"/>
<path fill="#cab2d6" d="M484.3,469.8C495,469 509.3,480.4 520,481.7C530.6,483.1 544.9,479.6 555.6,478.7C566.3,477.8 580.5,474.5 591.2,475.5C601.9,476.5 616.2,485.8 626.9,485.4C637.6,485 651.8,472.8 662.5,473C673.2,473.3 687.5,485.8 698.2,487.1C708.9,488.5 723.1,482.6 733.8,482.2C744.5,481.8 758.8,483.2 769.5,484.7C780.2,486.2 794.4,491.2 805.1,492.1C815.8,493 830.1,490.4 840.8,490.8L840.8,490.8C830.1,490.4 815.8,493 805.1,492.1C794.4,491.2 780.2,486.1 769.5,484.8C758.8,483.5 744.5,482.9 733.8,483.3C723.1,483.7 708.9,488.8 698.2,487.6C687.5,486.5 673.2,475.9 662.5,475.6C651.8,475.4 637.6,485.6 626.9,486C616.2,486.4 601.9,479.5 591.2,478.4C580.5,477.4 566.3,478.3 555.6,478.8C544.9,479.3 530.6,483.1 520,481.7C509.3,480.4 495,469 484.3,469.8Z"/>
<path fill="#6a3d9a" d="M484.3,469.8C495,469 509.3,480.5 520,481.7C530.6,483 544.9,479.1 555.6,478C566.3,476.9 580.5,473.1 591.2,474.2C601.9,475.4 616.2,485.7 626.9,485.4C637.6,485.1 651.8,472.3 662.5,472.4C673.2,472.6 687.5,484.8 698.2,486.2C708.9,487.7 723.1,482.4 733.8,482.2C744.5,482 758.8,483.2 769.5,484.7L769.5,484.7C758.8,483.2 744.5,481.8 733.8,482.2C723.1,482.6 708.9,488.5 698.2,487.1C687.5,485.8 673.2,473.3 662.5,473C651.8,472.8 637.6,485 626.9,485.4C616.2,485.8 601.9,476.5 591.2,475.5C580.5,474.5 566.3,477.8 555.6,478.7C544.9,479.6 530.6,483.1 520,481.7C509.3,480.4 495,469 484.3,469.8Z"/>
<path fill="#ffff99" d="M591.2,474.2C601.9,475.4 616.2,485.8 626.9,485.4C637.6,485 651.8,471.6 662.5,471.7C673.2,471.8 687.5,484.9 698.2,486.2C708.9,487.5 723.1,480.6 733.8,480.3C744.5,480.1 758.8,482.7 769.5,484.5C780.2,486.2 794.4,491.2 805.1,492.1C815.8,492.9 830.1,489.7 840.8,490.1C851.4,490.5 865.7,494.4 876.4,494.8C887.1,495.1 901.4,492.3 912,492.2C922.7,492 937,493.4 947.7,494C958.4,494.6 972.6,495.7 983.3,496L983.3,496C972.6,495.7 958.4,494.5 947.7,494C937,493.5 922.7,492.7 912,492.8C901.4,492.9 887.1,495.1 876.4,494.8C865.7,494.5 851.4,491.2 840.8,490.8C830.1,490.4 815.8,493 805.1,492.1C794.4,491.2 780.2,486.2 769.5,484.7C758.8,483.2 744.5,482 733.8,482.2C723.1,482.4 708.9,487.7 698.2,486.2C687.5,484.8 673.2,472.6 662.5,472.4C651.8,472.3 637.6,485.1 626.9,485.4C616.2,485.7 601.9,475.4 591.2,474.2Z"/>
<path fill="#b15928" d="M520,481.7C530.6,483 544.9,479.2 555.6,478C566.3,476.8 580.5,472.5 591.2,473.6C601.9,474.7 616.2,485.8 626.9,485.4C637.6,485 651.8,471.3 662.5,471C673.2,470.8 687.5,482.5 698.2,483.6C708.9,484.8 723.1,479.1 733.8,479C744.5,478.9 758.8,481.1 769.5,482.9C780.2,484.7 794.4,489.8 805.1,490.8C815.8,491.8 830.1,488.9 840.8,489.4C851.4,489.9 865.7,493.7 876.4,494.1C887.1,494.5 901.4,492.2 912,492C922.7,491.8 937,492.2 947.7,492.8C958.4,493.4 972.6,495.6 983.3,496C994,496.4 1008.3,495.5 1019,495.3C1029.7,495.1 1043.9,494.8 1054.6,494.8C1065.3,494.7 1079.6,495.1 1090.3,495.3C1101,495.4 1115.2,495.9 1125.9,496L1125.9,496C1115.2,495.9 1101,495.3 1090.3,495.3C1079.6,495.2 1065.3,495.4 1054.6,495.5C1043.9,495.6 1029.7,495.8 1019,495.9C1008.3,495.9 994,496.3 983.3,496C972.6,495.7 958.4,494.6 947.7,494C937,493.4 922.7,492 912,492.2C901.4,492.3 887.1,495.1 876.4,494.8C865.7,494.4 851.4,490.5 840.8,490.1C830.1,489.7 815.8,492.9 805.1,492.1C794.4,491.2 780.2,486.2 769.5,484.5C758.8,482.7 744.5,480.1 733.8,480.3C723.1,480.6 708.9,487.5 698.2,486.2C687.5,484.9 673.2,471.8 662.5,471.7C651.8,471.6 637.6,485 626.9,485.4C616.2,485.8 601.9,475.4 591.2,474.2C580.5,473.1 566.3,476.9 555.6,478C544.9,479.1 530.6,483 520,481.7Z"/>
<path fill="#a6cee3" d="M163.5,494.6C182.5,495.2 194.4,495.5 199.1,495.4C209.8,495.1 224.1,493.6 234.8,492.9C245.5,492.2 259.7,492 270.4,490.7C281.1,489.5 295.4,485.9 306.1,484.7C316.8,483.6 331,484.3 341.7,483.1C352.4,481.8 366.7,477.1 377.4,476.2C388.1,475.4 402.3,476.1 413,477.7L413,477.7C402.3,476.1 388.1,475.4 377.4,476.2C366.7,477.1 352.4,481.9 341.7,483.3C331,484.7 316.8,484.2 306.1,485.3C295.4,486.5 281.1,489.6 270.4,490.7C259.7,491.9 245.5,492.1 234.8,492.9C224.1,493.7 209.8,495.7 199.1,496C194.4,496.1 182.5,495.7 163.5,494.8ZM626.9,485.4C637.6,485 651.8,471.4 662.5,471C673.2,470.6 687.5,482.1 698.2,482.7C708.9,483.4 723.1,476.2 733.8,475.5C744.5,474.8 758.8,475.8 769.5,477.8C780.2,479.7 794.4,486.9 805.1,488.4C815.8,489.8 830.1,486.9 840.8,487.5C851.4,488 865.7,491.6 876.4,492C887.1,492.4 901.4,490.3 912,490.3C922.7,490.4 937,491.6 947.7,492.3C958.4,493.1 972.6,494.9 983.3,495.3C994,495.8 1008.3,495.4 1019,495.3C1029.7,495.2 1043.9,494.8 1054.6,494.8L1054.6,494.8C1043.9,494.8 1029.7,495.1 1019,495.3C1008.3,495.5 994,496.4 983.3,496C972.6,495.6 958.4,493.4 947.7,492.8C937,492.2 922.7,491.8 912,492C901.4,492.2 887.1,494.5 876.4,494.1C865.7,493.7 851.4,489.9 840.8,489.4C830.1,488.9 815.8,491.8 805.1,490.8C794.4,489.8 780.2,484.7 769.5,482.9C758.8,481.1 744.5,478.9 733.8,479C723.1,479.1 708.9,484.8 698.2,483.6C687.5,482.5 673.2,470.8 662.5,471C651.8,471.3 637.6,485 626.9,485.4Z"/>
<path fill="#1f78b4" d="M448.7,486.8C459.4,485.6 473.6,470.6 484.3,469.8C495,468.9 509.3,479.9 520,481.1C530.6,482.3 544.9,479.1 555.6,478C566.3,476.9 580.5,472.5 591.2,473.6L591.2,473.6C580.5,472.5 566.3,476.8 555.6,478C544.9,479.2 530.6,483 520,481.7C509.3,480.5 495,469 484.3,469.8C473.6,470.5 459.4,485.6 448.7,486.8ZM662.5,471C673.2,470.6 687.5,482.5 698.2,482.7C708.9,482.9 723.1,473.2 733.8,472.2C744.5,471.3 758.8,473.7 769.5,476.1C780.2,478.6 794.4,486.7 805.1,488.4C815.8,490.1 830.1,487.1 840.8,487.5C851.4,487.8 865.7,490.1 876.4,490.5C887.1,490.9 901.4,490 912,490.3C922.7,490.6 937,491.7 947.7,492.3C958.4,493 972.6,494.2 983.3,494.7C994,495.1 1008.3,495.3 1019,495.3C1029.7,495.3 1043.9,494.8 1054.6,494.8L1054.6,494.8C1043.9,494.8 1029.7,495.2 1019,495.3C1008.3,495.4 994,495.8 983.3,495.3C972.6,494.9 958.4,493.1 947.7,492.3C937,491.6 922.7,490.4 912,490.3C901.4,490.3 887.1,492.4 876.4,492C865.7,491.6 851.4,488 840.8,487.5C830.1,486.9 815.8,489.8 805.1,488.4C794.4,486.9 780.2,479.7 769.5,477.8C758.8,475.8 744.5,474.8 733.8,475.5C723.1,476.2 708.9,483.4 698.2,482.7C687.5,482.1 673.2,470.6 662.5,471Z"/>
<path fill="#b2df8a" d="M163.5,494.1C182.5,494.6 194.4,494.7 199.1,494.7C209.8,494.5 224.1,493.4 234.8,492.8C245.5,492.2 259.7,491.9 270.4,490.7C281.1,489.5 295.4,485.9 306.1,484.7L306.1,484.7C295.4,485.9 281.1,489.5 270.4,490.7C259.7,492 245.5,492.2 234.8,492.9C224.1,493.6 209.8,495.1 199.1,495.4C194.4,495.5 182.5,495.2 163.5,494.6ZM377.4,476.2C388.1,475.4 402.3,476.1 413,477.7C423.7,479.2 438,487.9 448.7,486.6C459.4,485.3 473.6,469.9 484.3,469.1C495,468.3 509.3,480 520,481.1C530.6,482.3 544.9,477.9 555.6,476.7C566.3,475.6 580.5,472.4 591.2,473.6C601.9,474.8 616.2,485.1 626.9,484.7C637.6,484.3 651.8,471.5 662.5,471C673.2,470.5 687.5,481.6 698.2,481.5C708.9,481.4 723.1,472 733.8,470.3C744.5,468.6 758.8,467.6 769.5,470.1C780.2,472.5 794.4,484.5 805.1,486.6C815.8,488.6 830.1,483.3 840.8,483.6C851.4,483.8 865.7,487.2 876.4,488.1C887.1,489 901.4,488.9 912,489.6C922.7,490.2 937,491.6 947.7,492.3C958.4,493.1 972.6,494.2 983.3,494.7L983.3,494.7C972.6,494.2 958.4,493 947.7,492.3C937,491.7 922.7,490.6 912,490.3C901.4,490 887.1,490.9 876.4,490.5C865.7,490.1 851.4,487.8 840.8,487.5C830.1,487.1 815.8,490.1 805.1,488.4C794.4,486.7 780.2,478.6 769.5,476.1C758.8,473.7 744.5,471.3 733.8,472.2C723.1,473.2 708.9,482.9 698.2,482.7C687.5,482.5 673.2,470.6 662.5,471C651.8,471.4 637.6,485 626.9,485.4C616.2,485.8 601.9,474.7 591.2,473.6C580.5,472.5 566.3,476.9 555.6,478C544.9,479.1 530.6,482.3 520,481.1C509.3,479.9 495,468.9 484.3,469.8C473.6,470.6 459.4,485.6 448.7,486.8C438,488 423.7,479.2 413,477.7C402.3,476.1 388.1,475.4 377.4,476.2Z"/>
<path fill="#33a02c" d="M163.5,493.4C182.5,494.3 194.4,494.7 199.1,494.6C209.8,494.4 224.1,492.6 234.8,492C245.5,491.5 259.7,491.8 270.4,490.7C281.1,489.6 295.4,485.9 306.1,484.7L306.1,484.7C295.4,485.9 281.1,489.5 270.4,490.7C259.7,491.9 245.5,492.2 234.8,492.8C224.1,493.4 209.8,494.5 199.1,494.7C194.4,494.7 182.5,494.6 163.5,494.1ZM341.7,483.1C352.4,481.8 366.7,477.2 377.4,476.2C388.1,475.3 402.3,474.8 413,476.4C423.7,477.9 438,487.7 448.7,486.6C459.4,485.5 473.6,469.9 484.3,469.1C495,468.3 509.3,480.2 520,481.1C530.6,482 544.9,476 555.6,474.9C566.3,473.8 580.5,472.1 591.2,473.6C601.9,475.1 616.2,485.1 626.9,484.7C637.6,484.3 651.8,471.8 662.5,471C673.2,470.3 687.5,479.7 698.2,479.6C708.9,479.5 723.1,472 733.8,470.3C744.5,468.6 758.8,465.8 769.5,468.2C780.2,470.7 794.4,484.3 805.1,486.6C815.8,488.9 830.1,483.3 840.8,483.6L840.8,483.6C830.1,483.3 815.8,488.6 805.1,486.6C794.4,484.5 780.2,472.5 769.5,470.1C758.8,467.6 744.5,468.6 733.8,470.3C723.1,472 708.9,481.4 698.2,481.5C687.5,481.6 673.2,470.5 662.5,471C651.8,471.5 637.6,484.3 626.9,484.7C616.2,485.1 601.9,474.8 591.2,473.6C580.5,472.4 566.3,475.6 555.6,476.7C544.9,477.9 530.6,482.3 520,481.1C509.3,480 495,468.3 484.3,469.1C473.6,469.9 459.4,485.3 448.7,486.6C438,487.9 423.7,479.2 413,477.7C402.3,476.1 388.1,475.4 377.4,476.2C366.7,477.1 352.4,481.8 341.7,483.1Z"/>
<path fill="#fb9a99" d="M448.7,486.6C459.4,485.5 473.6,470 484.3,469.1C495,468.2 509.3,479.5 520,480.4C530.6,481.3 544.9,475.9 555.6,474.9C566.3,473.9 580.5,472.1 591.2,473.6L591.2,473.6C580.5,472.1 566.3,473.8 555.6,474.9C544.9,476 530.6,482 520,481.1C509.3,480.2 495,468.3 484.3,469.1C473.6,469.9 459.4,485.5 448.7,486.6ZM698.2,479.6C708.9,479.5 723.1,472.1 733.8,470.3C744.5,468.5 758.8,465.5 769.5,467.9C780.2,470.2 794.4,483.8 805.1,486C815.8,488.1 830.1,482 840.8,482.2C851.4,482.4 865.7,486.3 876.4,487.3C887.1,488.3 901.4,488.3 912,489.1C922.7,489.8 937,491.5 947.7,492.3C958.4,493.2 972.6,494.2 983.3,494.7L983.3,494.7C972.6,494.2 958.4,493.1 947.7,492.3C937,491.6 922.7,490.2 912,489.6C901.4,488.9 887.1,489 876.4,488.1C865.7,487.2 851.4,483.8 840.8,483.6C830.1,483.3 815.8,488.9 805.1,486.6C794.4,484.3 780.2,470.7 769.5,468.2C758.8,465.8 744.5,468.6 733.8,470.3C723.1,472 708.9,479.5 698.2,479.6Z"/>
<path fill="#e31a1c" d="M377.4,476.2C388.1,475.3 402.3,474.9 413,476.4C423.7,477.9 438,487.6 448.7,486.4C459.4,485.2 473.6,469.3 484.3,468.4C495,467.5 509.3,479.4 520,480.4C530.6,481.4 544.9,475.9 555.6,474.9L555.6,474.9C544.9,475.9 530.6,481.3 520,480.4C509.3,479.5 495,468.2 484.3,469.1C473.6,470 459.4,485.5 448.7,486.6C438,487.7 423.7,477.9 413,476.4C402.3,474.8 388.1,475.3 377.4,476.2ZM662.5,471C673.2,470.3 687.5,480 698.2,479.6C708.9,479.3 723.1,470.9 733.8,468.8C744.5,466.6 758.8,463.3 769.5,465.6C780.2,467.9 794.4,482.1 805.1,483.8C815.8,485.5 830.1,476.6 840.8,477C851.4,477.3 865.7,485.1 876.4,486.2C887.1,487.4 901.4,484 912,484.8C922.7,485.6 937,490.2 947.7,491.6C958.4,493 972.6,493.5 983.3,494.1C994,494.6 1008.3,495.3 1019,495.3C1029.7,495.3 1043.9,494.1 1054.6,494.1C1065.3,494.1 1079.6,495.1 1090.3,495.3C1101,495.4 1115.2,495.3 1125.9,495.4C1136.6,495.5 1150.9,495.9 1161.6,496C1172.3,496.1 1186.5,496 1197.2,496L1197.2,496C1186.5,496 1172.3,496 1161.6,496C1150.9,496 1136.6,496.1 1125.9,496C1115.2,495.9 1101,495.4 1090.3,495.3C1079.6,495.1 1065.3,494.7 1054.6,494.8C1043.9,494.8 1029.7,495.3 1019,495.3C1008.3,495.3 994,495.1 983.3,494.7C972.6,494.2 958.4,493.2 947.7,492.3C937,491.5 922.7,489.8 912,489.1C901.4,488.3 887.1,488.3 876.4,487.3C865.7,486.3 851.4,482.4 840.8,482.2C830.1,482 815.8,488.1 805.1,486C794.4,483.8 780.2,470.2 769.5,467.9C758.8,465.5 744.5,468.5 733.8,470.3C723.1,472.1 708.9,479.5 698.2,479.6C687.5,479.7 673.2,470.3 662.5,471Z"/>
<path fill="#fdbf6f" d="M555.6,474.9C566.3,473.9 580.5,472.2 591.2,473.6C601.9,475 616.2,484.5 626.9,484.1C637.6,483.6 651.8,471.2 662.5,470.4C673.2,469.7 687.5,479.3 698.2,479C708.9,478.6 723.1,470.6 733.8,468.1C744.5,465.5 758.8,459.6 769.5,462C780.2,464.4 794.4,482 805.1,483.8C815.8,485.7 830.1,474 840.8,474.4C851.4,474.7 865.7,484.4 876.4,485.9C887.1,487.4 901.4,483.3 912,484.1C922.7,485 937,490.1 947.7,491.6C958.4,493.1 972.6,493.6 983.3,494.1C994,494.6 1008.3,494.8 1019,494.8C1029.7,494.8 1043.9,494 1054.6,494.1C1065.3,494.1 1079.6,495.2 1090.3,495.3C1101,495.3 1115.2,494.6 1125.9,494.7C1136.6,494.8 1150.9,495.8 1161.6,496C1172.3,496.2 1186.5,496 1197.2,496L1197.2,496C1186.5,496 1172.3,496.1 1161.6,496C1150.9,495.9 1136.6,495.5 1125.9,495.4C1115.2,495.3 1101,495.4 1090.3,495.3C1079.6,495.1 1065.3,494.1 1054.6,494.1C1043.9,494.1 1029.7,495.3 1019,495.3C1008.3,495.3 994,494.6 983.3,494.1C972.6,493.5 958.4,493 947.7,491.6C937,490.2 922.7,485.6 912,484.8C901.4,484 887.1,487.4 876.4,486.2C865.7,485.1 851.4,477.3 840.8,477C830.1,476.6 815.8,485.5 805.1,483.8C794.4,482.1 780.2,467.9 769.5,465.6C758.8,463.3 744.5,466.6 733.8,468.8C723.1,470.9 708.9,479.3 698.2,479.6C687.5,480 673.2,470.3 662.5,471C651.8,471.8 637.6,484.3 626.9,484.7C616.2,485.1 601.9,475.1 591.2,473.6C580.5,472.1 566.3,473.9 555.6,474.9Z"/>
<path fill="#ff7f00" d="M484.3,468.4C495,467.5 509.3,479.4 520,480.4C530.6,481.4 544.9,475.9 555.6,474.8C566.3,473.7 580.5,471.7 591.2,473.1C601.9,474.5 616.2,484.5 626.9,484.1C637.6,483.7 651.8,471.2 662.5,470.4C673.2,469.7 687.5,479.5 698.2,479C708.9,478.4 723.1,469.4 733.8,466.6C744.5,463.8 758.8,458 769.5,460.4C780.2,462.8 794.4,480.3 805.1,482.4C815.8,484.5 830.1,473.8 840.8,474.4C851.4,474.9 865.7,484.4 876.4,485.9L876.4,485.9C865.7,484.4 851.4,474.7 840.8,474.4C830.1,474 815.8,485.7 805.1,483.8C794.4,482 780.2,464.4 769.5,462C758.8,459.6 744.5,465.5 733.8,468.1C723.1,470.6 708.9,478.6 698.2,479C687.5,479.3 673.2,469.7 662.5,470.4C651.8,471.2 637.6,483.6 626.9,484.1C616.2,484.5 601.9,475 591.2,473.6C580.5,472.2 566.3,473.9 555.6,474.9C544.9,475.9 530.6,481.4 520,480.4C509.3,479.4 495,467.5 484.3,468.4Z"/>
<path fill="#cab2d6" d="M163.5,493.4C182.5,494.1 194.4,494.3 199.1,494.2C209.8,493.9 224.1,491.9 234.8,491.4C245.5,490.9 259.7,491.8 270.4,490.7C281.1,489.7 295.4,485.4 306.1,484.2C316.8,483 331,483.9 341.7,482.7C352.4,481.5 366.7,477.2 377.4,476.2C388.1,475.3 402.3,474.9 413,476.4L413,476.4C402.3,474.9 388.1,475.3 377.4,476.2C366.7,477.2 352.4,481.8 341.7,483.1C331,484.3 316.8,483.6 306.1,484.7C295.4,485.9 281.1,489.6 270.4,490.7C259.7,491.8 245.5,491.5 234.8,492C224.1,492.6 209.8,494.4 199.1,494.6C194.4,494.7 182.5,494.3 163.5,493.4ZM662.5,470.4C673.2,469.7 687.5,479.7 698.2,479C708.9,478.2 723.1,468.5 733.8,465.3C744.5,462 758.8,455.1 769.5,457.1C780.2,459.1 794.4,476.3 805.1,478.6C815.8,480.8 830.1,471.3 840.8,472.3C851.4,473.3 865.7,483.5 876.4,485.2C887.1,486.8 901.4,482.5 912,483.4C922.7,484.3 937,489.3 947.7,490.9C958.4,492.5 972.6,493.4 983.3,494C994,494.6 1008.3,495 1019,494.8C1029.7,494.7 1043.9,492.8 1054.6,492.8C1065.3,492.9 1079.6,495 1090.3,495.3C1101,495.5 1115.2,494.6 1125.9,494.7L1125.9,494.7C1115.2,494.6 1101,495.3 1090.3,495.3C1079.6,495.2 1065.3,494.1 1054.6,494.1C1043.9,494 1029.7,494.8 1019,494.8C1008.3,494.8 994,494.6 983.3,494.1C972.6,493.6 958.4,493.1 947.7,491.6C937,490.1 922.7,485 912,484.1C901.4,483.3 887.1,487.4 876.4,485.9C865.7,484.4 851.4,474.9 840.8,474.4C830.1,473.8 815.8,484.5 805.1,482.4C794.4,480.3 780.2,462.8 769.5,460.4C758.8,458 744.5,463.8 733.8,466.6C723.1,469.4 708.9,478.4 698.2,479C687.5,479.5 673.2,469.7 662.5,470.4Z"/>
<path fill="#6a3d9a" d="M484.3,468.4C495,467.5 509.3,479.6 520,480.4C530.6,481.3 544.9,475.2 555.6,474.1C566.3,473 580.5,471.6 591.2,473.1C601.9,474.6 616.2,484.5 626.9,484.1L626.9,484.1C616.2,484.5 601.9,474.5 591.2,473.1C580.5,471.7 566.3,473.7 555.6,474.8C544.9,475.9 530.6,481.4 520,480.4C509.3,479.4 495,467.5 484.3,468.4ZM698.2,479C708.9,478.2 723.1,468.8 733.8,465.3C744.5,461.7 758.8,453.3 769.5,455.2C780.2,457.1 794.4,475.4 805.1,477.9C815.8,480.4 830.1,470.6 840.8,471.7C851.4,472.8 865.7,483.5 876.4,485.2C887.1,486.8 901.4,481.9 912,482.8C922.7,483.7 937,489.2 947.7,490.9C958.4,492.6 972.6,493.4 983.3,494L983.3,494C972.6,493.4 958.4,492.5 947.7,490.9C937,489.3 922.7,484.3 912,483.4C901.4,482.5 887.1,486.8 876.4,485.2C865.7,483.5 851.4,473.3 840.8,472.3C830.1,471.3 815.8,480.8 805.1,478.6C794.4,476.3 780.2,459.1 769.5,457.1C758.8,455.1 744.5,462 733.8,465.3C723.1,468.5 708.9,478.2 698.2,479ZM1019,494.8C1029.7,494.7 1043.9,492.8 1054.6,492.8C1065.3,492.8 1079.6,494.6 1090.3,494.8C1101,495.1 1115.2,494.5 1125.9,494.7C1136.6,494.8 1150.9,495.8 1161.6,496L1161.6,496C1150.9,495.8 1136.6,494.8 1125.9,494.7C1115.2,494.6 1101,495.5 1090.3,495.3C1079.6,495 1065.3,492.9 1054.6,492.8C1043.9,492.8 1029.7,494.7 1019,494.8Z"/>
<path fill="#ffff99" d="M163.5,493.4C182.5,494.1 194.4,494.4 199.1,494.2C209.8,493.8 224.1,491.2 234.8,490.6C245.5,490 259.7,491.2 270.4,490.2C281.1,489.2 295.4,485.4 306.1,484.1C316.8,482.9 331,483.2 341.7,482C352.4,480.8 366.7,477.1 377.4,476.2C388.1,475.4 402.3,474.9 413,476.4C423.7,477.9 438,487.5 448.7,486.2C459.4,485 473.6,468.7 484.3,467.8C495,466.9 509.3,479.5 520,480.4C530.6,481.4 544.9,475.2 555.6,474.1L555.6,474.1C544.9,475.2 530.6,481.3 520,480.4C509.3,479.6 495,467.5 484.3,468.4C473.6,469.3 459.4,485.2 448.7,486.4C438,487.6 423.7,477.9 413,476.4C402.3,474.9 388.1,475.3 377.4,476.2C366.7,477.2 352.4,481.5 341.7,482.7C331,483.9 316.8,483 306.1,484.2C295.4,485.4 281.1,489.7 270.4,490.7C259.7,491.8 245.5,490.9 234.8,491.4C224.1,491.9 209.8,493.9 199.1,494.2C194.4,494.3 182.5,494.1 163.5,493.4ZM698.2,479C708.9,478.2 723.1,468.9 733.8,465.3C744.5,461.6 758.8,452.7 769.5,454.5C780.2,456.3 794.4,474.6 805.1,477.2C815.8,479.8 830.1,470.6 840.8,471.7C851.4,472.8 865.7,482.9 876.4,484.6C887.1,486.2 901.4,481.8 912,482.8C922.7,483.7 937,489.2 947.7,490.9L947.7,490.9C937,489.2 922.7,483.7 912,482.8C901.4,481.9 887.1,486.8 876.4,485.2C865.7,483.5 851.4,472.8 840.8,471.7C830.1,470.6 815.8,480.4 805.1,477.9C794.4,475.4 780.2,457.1 769.5,455.2C758.8,453.3 744.5,461.7 733.8,465.3C723.1,468.8 708.9,478.2 698.2,479Z"/>
<path fill="#b15928" d="M698.2,479C708.9,478.2 723.1,469.1 733.8,465.3C744.5,461.4 758.8,451.9 769.5,453.4C780.2,454.9 794.4,472.9 805.1,475.4C815.8,477.8 830.1,468.5 840.8,469.6C851.4,470.7 865.7,480.7 876.4,482.6C887.1,484.5 901.4,481.5 912,482.3C922.7,483 937,486.2 947.7,487.6C958.4,488.9 972.6,490.3 983.3,491.4C994,492.5 1008.3,494.6 1019,494.8C1029.7,495.1 1043.9,492.8 1054.6,492.8L1054.6,492.8C1043.9,492.8 1029.7,494.7 1019,494.8C1008.3,495 994,494.6 983.3,494C972.6,493.4 958.4,492.6 947.7,490.9C937,489.2 922.7,483.7 912,482.8C901.4,481.8 887.1,486.2 876.4,484.6C865.7,482.9 851.4,472.8 840.8,471.7C830.1,470.6 815.8,479.8 805.1,477.2C794.4,474.6 780.2,456.3 769.5,454.5C758.8,452.7 744.5,461.6 733.8,465.3C723.1,468.9 708.9,478.2 698.2,479Z"/>
<path fill="#a6cee3" d="M341.7,482C352.4,480.8 366.7,477.1 377.4,476.2C388.1,475.4 402.3,474.7 413,476.1C423.7,477.5 438,486.8 448.7,485.6C459.4,484.3 473.6,468.6 484.3,467.8C495,467 509.3,479.4 520,480.2C530.6,480.9 544.9,474 555.6,472.9C566.3,471.9 580.5,471.5 591.2,473.1C601.9,474.8 616.2,484.5 626.9,484.1L626.9,484.1C616.2,484.5 601.9,474.6 591.2,473.1C580.5,471.6 566.3,473 555.6,474.1C544.9,475.2 530.6,481.4 520,480.4C509.3,479.5 495,466.9 484.3,467.8C473.6,468.7 459.4,485 448.7,486.2C438,487.5 423.7,477.9 413,476.4C402.3,474.9 388.1,475.4 377.4,476.2C366.7,477.1 352.4,480.8 341.7,482ZM698.2,479C708.9,478.2 723.1,469.2 733.8,465.3C744.5,461.3 758.8,451.3 769.5,452.7C780.2,454.1 794.4,472.1 805.1,474.6C815.8,477.1 830.1,468.5 840.8,469.6C851.4,470.7 865.7,480.1 876.4,482C887.1,483.9 901.4,481.5 912,482.3C922.7,483.1 937,486.4 947.7,487.6C958.4,488.7 972.6,489.4 983.3,490.3C994,491.1 1008.3,493.2 1019,493.4C1029.7,493.6 1043.9,491.3 1054.6,491.5C1065.3,491.7 1079.6,494.4 1090.3,494.8C1101,495.3 1115.2,494.5 1125.9,494.7L1125.9,494.7C1115.2,494.5 1101,495.1 1090.3,494.8C1079.6,494.6 1065.3,492.8 1054.6,492.8C1043.9,492.8 1029.7,495.1 1019,494.8C1008.3,494.6 994,492.5 983.3,491.4C972.6,490.3 958.4,488.9 947.7,487.6C937,486.2 922.7,483 912,482.3C901.4,481.5 887.1,484.5 876.4,482.6C865.7,480.7 851.4,470.7 840.8,469.6C830.1,468.5 815.8,477.8 805.1,475.4C794.4,472.9 780.2,454.9 769.5,453.4C758.8,451.9 744.5,461.4 733.8,465.3C723.1,469.1 708.9,478.2 698.2,479Z"/>
<path fill="#1f78b4" d="M199.1,494.2C209.8,493.8 224.1,491.2 234.8,490.6C245.5,490 259.7,491.2 270.4,490.1C281.1,489 295.4,485 306.1,483.5C316.8,482 331,481.4 341.7,480.2C352.4,478.9 366.7,476 377.4,475.1C388.1,474.1 402.3,472.9 413,473.8C423.7,474.7 438,482.5 448.7,481C459.4,479.5 473.6,464.1 484.3,463.9C495,463.7 509.3,478.4 520,479.7C530.6,480.9 544.9,473.4 555.6,472.3C566.3,471.3 580.5,471.1 591.2,472.7C601.9,474.4 616.2,483.6 626.9,483.3C637.6,483 651.8,471.1 662.5,470.4C673.2,469.8 687.5,479.7 698.2,479L698.2,479C687.5,479.7 673.2,469.7 662.5,470.4C651.8,471.2 637.6,483.7 626.9,484.1C616.2,484.5 601.9,474.8 591.2,473.1C580.5,471.5 566.3,471.9 555.6,472.9C544.9,474 530.6,480.9 520,480.2C509.3,479.4 495,467 484.3,467.8C473.6,468.6 459.4,484.3 448.7,485.6C438,486.8 423.7,477.5 413,476.1C402.3,474.7 388.1,475.4 377.4,476.2C366.7,477.1 352.4,480.8 341.7,482C331,483.2 316.8,482.9 306.1,484.1C295.4,485.4 281.1,489.2 270.4,490.2C259.7,491.2 245.5,490 234.8,490.6C224.1,491.2 209.8,493.8 199.1,494.2ZM733.8,465.3C744.5,461.3 758.8,451.4 769.5,452.7C780.2,454 794.4,471.4 805.1,473.9C815.8,476.3 830.1,467.8 840.8,468.9C851.4,470.1 865.7,479.5 876.4,481.5C887.1,483.5 901.4,481.5 912,482.3C922.7,483.1 937,485.7 947.7,486.9C958.4,488.1 972.6,489.3 983.3,490.3C994,491.2 1008.3,493.2 1019,493.2C1029.7,493.2 1043.9,490.2 1054.6,490.2C1065.3,490.3 1079.6,492.8 1090.3,493.4C1101,494.1 1115.2,494.3 1125.9,494.7C1136.6,495.1 1150.9,495.8 1161.6,496L1161.6,496C1150.9,495.8 1136.6,494.8 1125.9,494.7C1115.2,494.5 1101,495.3 1090.3,494.8C1079.6,494.4 1065.3,491.7 1054.6,491.5C1043.9,491.3 1029.7,493.6 1019,493.4C1008.3,493.2 994,491.1 983.3,490.3C972.6,489.4 958.4,488.7 947.7,487.6C937,486.4 922.7,483.1 912,482.3C901.4,481.5 887.1,483.9 876.4,482C865.7,480.1 851.4,470.7 840.8,469.6C830.1,468.5 815.8,477.1 805.1,474.6C794.4,472.1 780.2,454.1 769.5,452.7C758.8,451.3 744.5,461.3 733.8,465.3Z"/>
<path fill="#b2df8a" d="M270.4,490.1C281.1,489 295.4,485.1 306.1,483.5C316.8,481.8 331,480.2 341.7,478.9C352.4,477.6 366.7,476 377.4,474.9C388.1,473.7 402.3,470.7 413,471.1C423.7,471.6 438,479.6 448.7,477.9C459.4,476.2 473.6,459.8 484.3,460C495,460.2 509.3,477.6 520,479.1C530.6,480.6 544.9,470.7 555.6,469.7C566.3,468.8 580.5,470.6 591.2,472.7C601.9,474.7 616.2,483.6 626.9,483.3C637.6,483 651.8,471.1 662.5,470.4L662.5,470.4C651.8,471.1 637.6,483 626.9,483.3C616.2,483.6 601.9,474.4 591.2,472.7C580.5,471.1 566.3,471.3 555.6,472.3C544.9,473.4 530.6,480.9 520,479.7C509.3,478.4 495,463.7 484.3,463.9C473.6,464.1 459.4,479.5 448.7,481C438,482.5 423.7,474.7 413,473.8C402.3,472.9 388.1,474.1 377.4,475.1C366.7,476 352.4,478.9 341.7,480.2C331,481.4 316.8,482 306.1,483.5C295.4,485 281.1,489 270.4,490.1ZM876.4,481.5C887.1,483.5 901.4,481.7 912,482.3C922.7,482.9 937,484.5 947.7,485.5C958.4,486.6 972.6,488.4 983.3,489.4C994,490.5 1008.3,492.6 1019,492.7C1029.7,492.9 1043.9,490.1 1054.6,490.2C1065.3,490.3 1079.6,492.8 1090.3,493.4L1090.3,493.4C1079.6,492.8 1065.3,490.3 1054.6,490.2C1043.9,490.2 1029.7,493.2 1019,493.2C1008.3,493.2 994,491.2 983.3,490.3C972.6,489.3 958.4,488.1 947.7,486.9C937,485.7 922.7,483.1 912,482.3C901.4,481.5 887.1,483.5 876.4,481.5Z"/>
<path fill="#33a02c" d="M662.5,470.4C673.2,469.8 687.5,479.8 698.2,479C708.9,478.1 723.1,468.7 733.8,464.5C744.5,460.3 758.8,449.7 769.5,450.8C780.2,451.9 794.4,469.1 805.1,471.6C815.8,474.2 830.1,467.1 840.8,467.8C851.4,468.5 865.7,474.5 876.4,476.1C887.1,477.7 901.4,477.3 912,478.3C922.7,479.4 937,481.4 947.7,483C958.4,484.7 972.6,488.2 983.3,489.4C994,490.7 1008.3,491.5 1019,491.4C1029.7,491.3 1043.9,488.5 1054.6,488.8C1065.3,489.1 1079.6,492.5 1090.3,493.3C1101,494.1 1115.2,493.6 1125.9,494C1136.6,494.4 1150.9,495.7 1161.6,496C1172.3,496.3 1186.5,496 1197.2,496L1197.2,496C1186.5,496 1172.3,496.2 1161.6,496C1150.9,495.8 1136.6,495.1 1125.9,494.7C1115.2,494.3 1101,494.1 1090.3,493.4C1079.6,492.8 1065.3,490.3 1054.6,490.2C1043.9,490.1 1029.7,492.9 1019,492.7C1008.3,492.6 994,490.5 983.3,489.4C972.6,488.4 958.4,486.6 947.7,485.5C937,484.5 922.7,482.9 912,482.3C901.4,481.7 887.1,483.5 876.4,481.5C865.7,479.5 851.4,470.1 840.8,468.9C830.1,467.8 815.8,476.3 805.1,473.9C794.4,471.4 780.2,454 769.5,452.7C758.8,451.4 744.5,461.3 733.8,465.3C723.1,469.2 708.9,478.2 698.2,479C687.5,479.7 673.2,469.8 662.5,470.4Z"/>
<path fill="#fb9a99" d="M555.6,469.7C566.3,468.8 580.5,470.8 591.2,472.7C601.9,474.5 616.2,482.6 626.9,482.3C637.6,482 651.8,470.9 662.5,470.4C673.2,469.9 687.5,479.8 698.2,479C708.9,478.1 723.1,468.9 733.8,464.5C744.5,460.1 758.8,448.8 769.5,449.5C780.2,450.3 794.4,467.1 805.1,469.6C815.8,472.2 830.1,466.3 840.8,466.8C851.4,467.3 865.7,471.9 876.4,473.1C887.1,474.2 901.4,472.9 912,474.4C922.7,475.9 937,480.8 947.7,483C958.4,485.2 972.6,487.7 983.3,488.9C994,490.1 1008.3,490.8 1019,490.8C1029.7,490.8 1043.9,488.4 1054.6,488.8C1065.3,489.2 1079.6,492.5 1090.3,493.3L1090.3,493.3C1079.6,492.5 1065.3,489.1 1054.6,488.8C1043.9,488.5 1029.7,491.3 1019,491.4C1008.3,491.5 994,490.7 983.3,489.4C972.6,488.2 958.4,484.7 947.7,483C937,481.4 922.7,479.4 912,478.3C901.4,477.3 887.1,477.7 876.4,476.1C865.7,474.5 851.4,468.5 840.8,467.8C830.1,467.1 815.8,474.2 805.1,471.6C794.4,469.1 780.2,451.9 769.5,450.8C758.8,449.7 744.5,460.3 733.8,464.5C723.1,468.7 708.9,478.1 698.2,479C687.5,479.8 673.2,469.8 662.5,470.4C651.8,471.1 637.6,483 626.9,483.3C616.2,483.6 601.9,474.7 591.2,472.7C580.5,470.6 566.3,468.8 555.6,469.7Z"/>
<path fill="#e31a1c" d="M698.2,479C708.9,478.1 723.1,469.3 733.8,464.5C744.5,459.7 758.8,446.5 769.5,446.9C780.2,447.3 794.4,464.6 805.1,467.4C815.8,470.1 830.1,464.7 840.8,465.2C851.4,465.7 865.7,469.5 876.4,470.9C887.1,472.3 901.4,472.6 912,474.4C922.7,476.2 937,480.8 947.7,483L947.7,483C937,480.8 922.7,475.9 912,474.4C901.4,472.9 887.1,474.2 876.4,473.1C865.7,471.9 851.4,467.3 840.8,466.8C830.1,466.3 815.8,472.2 805.1,469.6C794.4,467.1 780.2,450.3 769.5,449.5C758.8,448.8 744.5,460.1 733.8,464.5C723.1,468.9 708.9,478.1 698.2,479Z"/>
<path fill="#fdbf6f" d="M733.8,464.5C744.5,459.7 758.8,446.5 769.5,446.9C780.2,447.2 794.4,464.1 805.1,466.8C815.8,469.6 830.1,464.8 840.8,465.2C851.4,465.6 865.7,468.4 876.4,469.6C887.1,470.8 901.4,471 912,473C922.7,475 937,480.7 947.7,482.9C958.4,485.2 972.6,487 983.3,488.1C994,489.3 1008.3,490.8 1019,490.8C1029.7,490.8 1043.9,487.8 1054.6,488.1C1065.3,488.5 1079.6,492.4 1090.3,493.3C1101,494.2 1115.2,493.6 1125.9,494L1125.9,494C1115.2,493.6 1101,494.1 1090.3,493.3C1079.6,492.5 1065.3,489.2 1054.6,488.8C1043.9,488.4 1029.7,490.8 1019,490.8C1008.3,490.8 994,490.1 983.3,488.9C972.6,487.7 958.4,485.2 947.7,483C937,480.8 922.7,476.2 912,474.4C901.4,472.6 887.1,472.3 876.4,470.9C865.7,469.5 851.4,465.7 840.8,465.2C830.1,464.7 815.8,470.1 805.1,467.4C794.4,464.6 780.2,447.3 769.5,446.9C758.8,446.5 744.5,459.7 733.8,464.5Z"/>
<path fill="#ff7f00" d="M805.1,466.8C815.8,469.6 830.1,465.1 840.8,465.2C851.4,465.2 865.7,466.4 876.4,467.1C887.1,467.8 901.4,467.7 912,469.6C922.7,471.6 937,477.9 947.7,480.3C958.4,482.8 972.6,484.5 983.3,486.1C994,487.7 1008.3,490.5 1019,490.8C1029.7,491.1 1043.9,487.8 1054.6,488.1L1054.6,488.1C1043.9,487.8 1029.7,490.8 1019,490.8C1008.3,490.8 994,489.3 983.3,488.1C972.6,487 958.4,485.2 947.7,482.9C937,480.7 922.7,475 912,473C901.4,471 887.1,470.8 876.4,469.6C865.7,468.4 851.4,465.6 840.8,465.2C830.1,464.8 815.8,469.6 805.1,466.8Z"/>
<path fill="#cab2d6" d="M555.6,469.7C566.3,468.8 580.5,470.9 591.2,472.7C601.9,474.4 616.2,481.9 626.9,481.5C637.6,481 651.8,470.2 662.5,469.8C673.2,469.5 687.5,479.8 698.2,479C708.9,478.2 723.1,469.3 733.8,464.5C744.5,459.7 758.8,446.7 769.5,446.9C780.2,447.1 794.4,463.2 805.1,465.9C815.8,468.7 830.1,465 840.8,465.2C851.4,465.4 865.7,466.4 876.4,467.1C887.1,467.8 901.4,467.7 912,469.6C922.7,471.5 937,477.6 947.7,479.8C958.4,481.9 972.6,482.7 983.3,484.1C994,485.6 1008.3,488.8 1019,489.4C1029.7,490 1043.9,487.6 1054.6,488.1C1065.3,488.6 1079.6,492.1 1090.3,492.7C1101,493.4 1115.2,492.2 1125.9,492.7C1136.6,493.1 1150.9,495.5 1161.6,496C1172.3,496.5 1186.5,496 1197.2,496L1197.2,496C1186.5,496 1172.3,496.3 1161.6,496C1150.9,495.7 1136.6,494.4 1125.9,494C1115.2,493.6 1101,494.2 1090.3,493.3C1079.6,492.4 1065.3,488.5 1054.6,488.1C1043.9,487.8 1029.7,491.1 1019,490.8C1008.3,490.5 994,487.7 983.3,486.1C972.6,484.5 958.4,482.8 947.7,480.3C937,477.9 922.7,471.6 912,469.6C901.4,467.7 887.1,467.8 876.4,467.1C865.7,466.4 851.4,465.2 840.8,465.2C830.1,465.1 815.8,469.6 805.1,466.8C794.4,464.1 780.2,447.2 769.5,446.9C758.8,446.5 744.5,459.7 733.8,464.5C723.1,469.3 708.9,478.1 698.2,479C687.5,479.8 673.2,469.9 662.5,470.4C651.8,470.9 637.6,482 626.9,482.3C616.2,482.6 601.9,474.5 591.2,472.7C580.5,470.8 566.3,468.8 555.6,469.7Z"/>
<path fill="#6a3d9a" d="M805.1,465.9C815.8,468.7 830.1,465.1 840.8,465.2C851.4,465.3 865.7,465.8 876.4,466.5C887.1,467.2 901.4,467.7 912,469.6C922.7,471.6 937,477.6 947.7,479.8C958.4,481.9 972.6,482.8 983.3,484.1C994,485.5 1008.3,488.4 1019,488.7C1029.7,489 1043.9,485.7 1054.6,486.2C1065.3,486.7 1079.6,491.3 1090.3,492.2C1101,493.2 1115.2,492.1 1125.9,492.7C1136.6,493.2 1150.9,495.5 1161.6,496L1161.6,496C1150.9,495.5 1136.6,493.1 1125.9,492.7C1115.2,492.2 1101,493.4 1090.3,492.7C1079.6,492.1 1065.3,488.6 1054.6,488.1C1043.9,487.6 1029.7,490 1019,489.4C1008.3,488.8 994,485.6 983.3,484.1C972.6,482.7 958.4,481.9 947.7,479.8C937,477.6 922.7,471.5 912,469.6C901.4,467.7 887.1,467.8 876.4,467.1C865.7,466.4 851.4,465.4 840.8,465.2C830.1,465 815.8,468.7 805.1,465.9Z"/>
<path fill="#ffff99" d="M733.8,464.5C744.5,459.7 758.8,446.8 769.5,446.9C780.2,447 794.4,462.4 805.1,465.1C815.8,467.9 830.1,465 840.8,465.2C851.4,465.4 865.7,465.8 876.4,466.5L876.4,466.5C865.7,465.8 851.4,465.3 840.8,465.2C830.1,465.1 815.8,468.7 805.1,465.9C794.4,463.2 780.2,447.1 769.5,446.9C758.8,446.7 744.5,459.7 733.8,464.5ZM983.3,484.1C994,485.5 1008.3,488.6 1019,488.7C1029.7,488.8 1043.9,484.4 1054.6,484.8C1065.3,485.3 1079.6,490.6 1090.3,491.7C1101,492.9 1115.2,492 1125.9,492.7C1136.6,493.3 1150.9,495.5 1161.6,496L1161.6,496C1150.9,495.5 1136.6,493.2 1125.9,492.7C1115.2,492.1 1101,493.2 1090.3,492.2C1079.6,491.3 1065.3,486.7 1054.6,486.2C1043.9,485.7 1029.7,489 1019,488.7C1008.3,488.4 994,485.5 983.3,484.1Z"/>
<path fill="#b15928" d="M912,469.6C922.7,471.6 937,477.7 947.7,479.8C958.4,481.8 972.6,482.1 983.3,483.5C994,484.8 1008.3,488.7 1019,488.7C1029.7,488.7 1043.9,483.1 1054.6,483.5C1065.3,483.9 1079.6,490.5 1090.3,491.6C1101,492.8 1115.2,490.7 1125.9,491.4C1136.6,492 1150.9,495.3 1161.6,496C1172.3,496.7 1186.5,496 1197.2,496L1197.2,496C1186.5,496 1172.3,496.5 1161.6,496C1150.9,495.5 1136.6,493.3 1125.9,492.7C1115.2,492 1101,492.9 1090.3,491.7C1079.6,490.6 1065.3,485.3 1054.6,484.8C1043.9,484.4 1029.7,488.8 1019,488.7C1008.3,488.6 994,485.5 983.3,484.1C972.6,482.8 958.4,481.9 947.7,479.8C937,477.6 922.7,471.6 912,469.6Z"/>
<path fill="#a6cee3" d="M769.5,446.9C780.2,447 794.4,462.5 805.1,465.1C815.8,467.8 830.1,464.3 840.8,464.5C851.4,464.7 865.7,465.7 876.4,466.5C887.1,467.3 901.4,467.7 912,469.6L912,469.6C901.4,467.7 887.1,467.2 876.4,466.5C865.7,465.8 851.4,465.4 840.8,465.2C830.1,465 815.8,467.9 805.1,465.1C794.4,462.4 780.2,447 769.5,446.9Z"/>
<path fill="#1f78b4" d="M662.5,469.8C673.2,469.5 687.5,479.8 698.2,479C708.9,478.1 723.1,469.2 733.8,464.3C744.5,459.3 758.8,446.1 769.5,446.2C780.2,446.3 794.4,462.4 805.1,465.1C815.8,467.9 830.1,464.3 840.8,464.5L840.8,464.5C830.1,464.3 815.8,467.8 805.1,465.1C794.4,462.5 780.2,447 769.5,446.9C758.8,446.8 744.5,459.7 733.8,464.5C723.1,469.3 708.9,478.2 698.2,479C687.5,479.8 673.2,469.5 662.5,469.8Z"/>
<path fill="#33a02c" d="M591.2,472.7C601.9,474.4 616.2,482 626.9,481.5C637.6,480.9 651.8,469.5 662.5,469.2C673.2,468.8 687.5,479.7 698.2,479C708.9,478.2 723.1,469.2 733.8,464.3L733.8,464.3C723.1,469.2 708.9,478.1 698.2,479C687.5,479.8 673.2,469.5 662.5,469.8C651.8,470.2 637.6,481 626.9,481.5C616.2,481.9 601.9,474.4 591.2,472.7Z"/>
<path fill="#e31a1c" d="M1125.9,491.4C1136.6,492 1150.9,495.3 1161.6,496C1172.3,496.7 1186.5,496 1197.2,495.9C1207.9,495.8 1222.2,495.4 1232.9,495.4C1237.6,495.4 1249.5,495.6 1268.5,496L1268.5,496C1249.5,496 1237.6,496 1232.9,496C1222.2,496 1207.9,496 1197.2,496C1186.5,496 1172.3,496.7 1161.6,496C1150.9,495.3 1136.6,492 1125.9,491.4Z"/>
<path fill="#1f78b4" d="M1125.9,491.4C1136.6,492 1150.9,495.4 1161.6,496C1172.3,496.6 1186.5,495.4 1197.2,495.3C1207.9,495.2 1222.2,495.2 1232.9,495.3C1237.6,495.4 1249.5,495.6 1268.5,496L1268.5,496C1249.5,495.6 1237.6,495.4 1232.9,495.4C1222.2,495.4 1207.9,495.8 1197.2,495.9C1186.5,496 1172.3,496.7 1161.6,496C1150.9,495.3 1136.6,492 1125.9,491.4Z"/>
<path fill="#b2df8a" d="M555.6,469.7C566.3,468.8 580.5,471 591.2,472.7C601.9,474.3 616.2,481.6 626.9,481C637.6,480.3 651.8,468.8 662.5,468.5C673.2,468.2 687.5,479.6 698.2,479C708.9,478.3 723.1,469.2 733.8,464.3L733.8,464.3C723.1,469.2 708.9,478.2 698.2,479C687.5,479.7 673.2,468.8 662.5,469.2C651.8,469.5 637.6,480.9 626.9,481.5C616.2,482 601.9,474.4 591.2,472.7C580.5,470.9 566.3,468.8 555.6,469.7Z"/>
<path fill="#cab2d6" d="M1125.9,491.4C1136.6,492 1150.9,495.5 1161.6,496C1172.3,496.5 1186.5,494.8 1197.2,494.7C1207.9,494.6 1222.2,495.2 1232.9,495.3C1237.6,495.4 1249.5,495.7 1268.5,496L1268.5,496C1249.5,495.6 1237.6,495.4 1232.9,495.3C1222.2,495.2 1207.9,495.2 1197.2,495.3C1186.5,495.4 1172.3,496.6 1161.6,496C1150.9,495.4 1136.6,492 1125.9,491.4Z"/>
<path fill="#6a3d9a" d="M1125.9,491.4C1136.6,492 1150.9,495.5 1161.6,496C1172.3,496.5 1186.5,494.8 1197.2,494.6C1207.9,494.4 1222.2,494.5 1232.9,494.7C1237.6,494.8 1249.5,495.2 1268.5,496L1268.5,496C1249.5,495.7 1237.6,495.4 1232.9,495.3C1222.2,495.2 1207.9,494.6 1197.2,494.7C1186.5,494.8 1172.3,496.5 1161.6,496C1150.9,495.5 1136.6,492 1125.9,491.4Z"/>
<path fill="#ffff99" d="M1197.2,494.6C1207.9,494.4 1222.2,494.6 1232.9,494.7C1237.6,494.7 1249.5,494.9 1268.5,495.3L1268.5,496C1249.5,495.2 1237.6,494.8 1232.9,494.7C1222.2,494.5 1207.9,494.4 1197.2,494.6Z"/>
</g>
<g class="axis ax2"><path d="M164,503.1 V496.5 H1270"/><line x1="231.9" x2="231.9" y1="496.5" y2="503.1"/><text x="231.9" y="516">1,040</text><line x1="303.2" x2="303.2" y1="496.5" y2="503.1"/><text x="303.2" y="516">1,060</text><line x1="374.5" x2="374.5" y1="496.5" y2="503.1"/><text x="374.5" y="516">1,080</text><line x1="445.8" x2="445.8" y1="496.5" y2="503.1"/><text x="445.8" y="516">1,100</text><line x1="517.1" x2="517.1" y1="496.5" y2="503.1"/><text x="517.1" y="516">1,120</text><line x1="588.4" x2="588.4" y1="496.5" y2="503.1"/><text x="588.4" y="516">1,140</text><line x1="659.6" x2="659.6" y1="496.5" y2="503.1"/><text x="659.6" y="516">1,160</text><line x1="730.9" x2="730.9" y1="496.5" y2="503.1"/><text x="730.9" y="516">1,180</text><line x1="802.2" x2="802.2" y1="496.5" y2="503.1"/><text x="802.2" y="516">1,200</text><line x1="873.5" x2="873.5" y1="496.5" y2="503.1"/><text x="873.5" y="516">1,220</text><line x1="944.8" x2="944.8" y1="496.5" y2="503.1"/><text x="944.8" y="516">1,240</text><line x1="1016.1" x2="1016.1" y1="496.5" y2="503.1"/><text x="1016.1" y="516">1,260</text><line x1="1087.4" x2="1087.4" y1="496.5" y2="503.1"/><text x="1087.4" y="516">1,280</text><line x1="1158.7" x2="1158.7" y1="496.5" y2="503.1"/><text x="1158.7" y="516">1,300</text><line x1="1230" x2="1230" y1="496.5" y2="503.1"/><text x="1230" y="516">1,320</text></g>
<rect x="163.5" y="434" width="1104.2" height="85.5" fill="#000" fill-opacity="0.16"/>
<rect x="214.3" y="410" width="6.6" height="109.5" fill="#000" fill-opacity="0.05"/>
</svg></body></html>
